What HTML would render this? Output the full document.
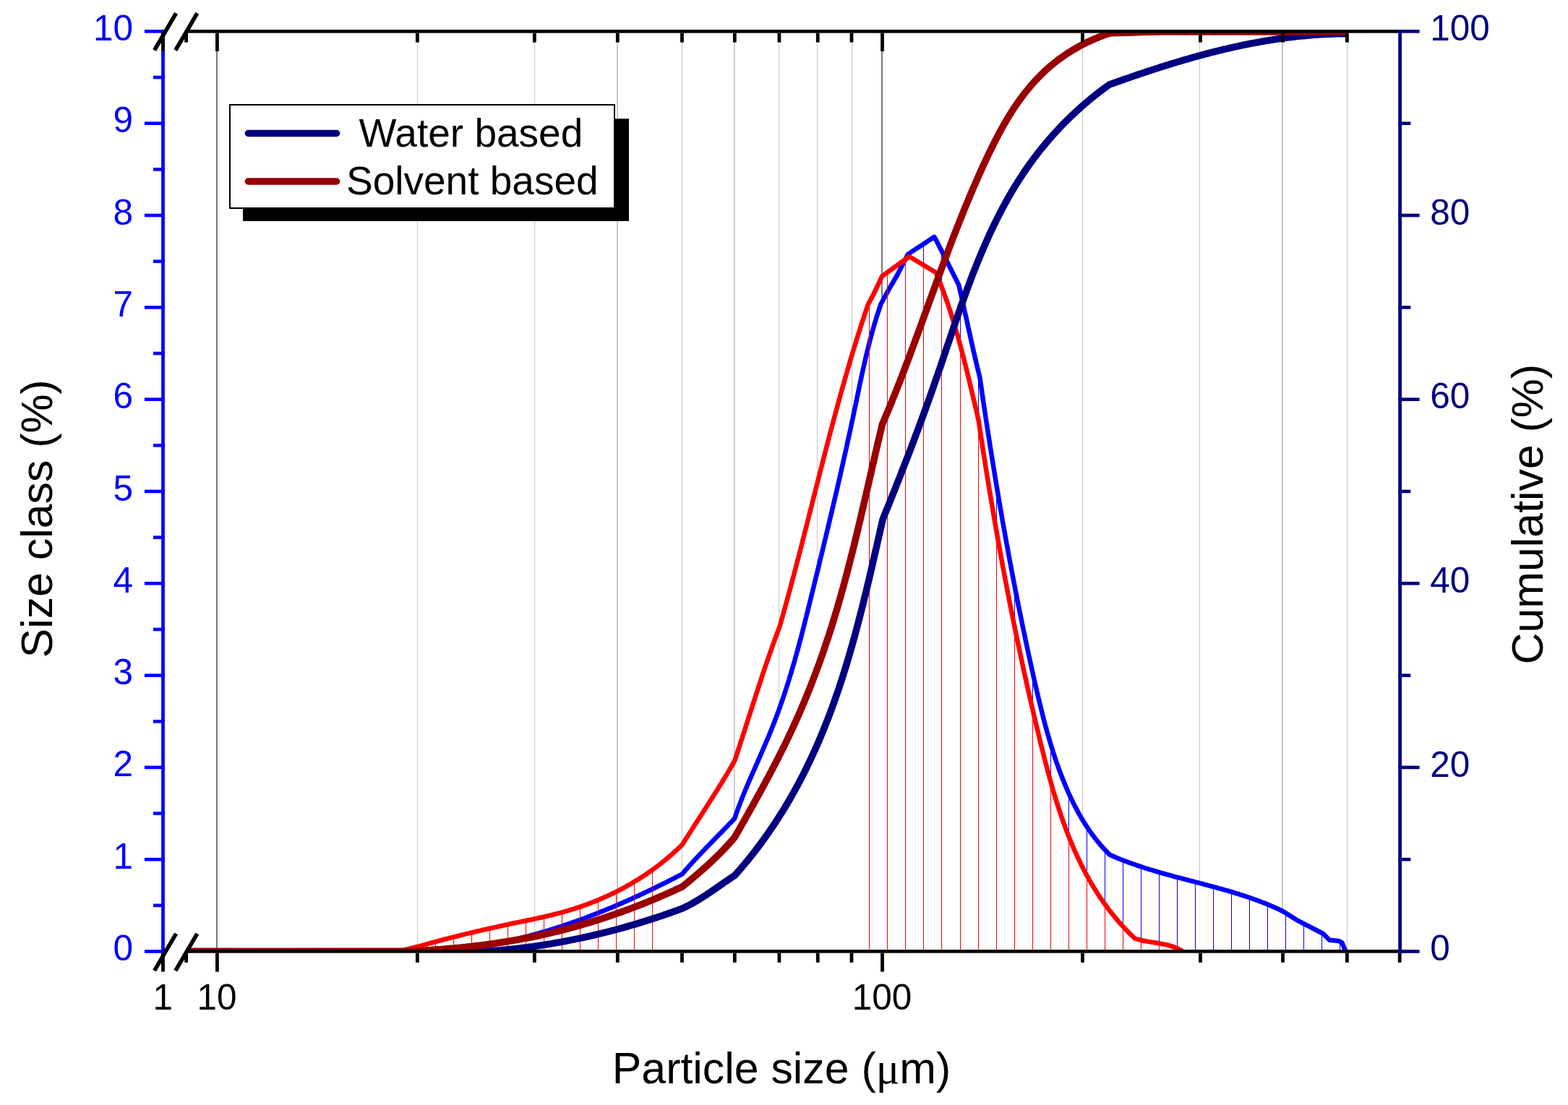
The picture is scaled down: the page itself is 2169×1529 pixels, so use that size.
<!DOCTYPE html>
<html><head><meta charset="utf-8"><title>Particle size distribution</title>
<style>html,body{margin:0;padding:0;background:#fff;}svg{display:block;}text{font-family:"Liberation Sans",Arial,sans-serif;}</style></head><body>
<svg width="2169" height="1529" viewBox="0 0 2169 1529">
<rect x="0" y="0" width="2169" height="1529" fill="#fff"/>
<defs><clipPath id="pc"><rect x="258" y="43.4" width="1678.7" height="1273.1"/></clipPath></defs>
<g shape-rendering="crispEdges">
<rect x="577" y="46" width="1" height="1268" fill="#c6c6c6"/>
<rect x="739" y="46" width="1" height="1268" fill="#c6c6c6"/>
<rect x="943" y="46" width="1" height="1268" fill="#c6c6c6"/>
<rect x="1077" y="46" width="1" height="1268" fill="#c6c6c6"/>
<rect x="1130" y="46" width="1" height="1268" fill="#c6c6c6"/>
<rect x="1178" y="46" width="1" height="1268" fill="#c6c6c6"/>
<rect x="1497" y="46" width="1" height="1268" fill="#c6c6c6"/>
<rect x="1659" y="46" width="1" height="1268" fill="#c6c6c6"/>
<rect x="1863" y="46" width="1" height="1268" fill="#c6c6c6"/>
<rect x="853" y="46" width="2" height="1268" fill="#c6c6c6"/>
<rect x="1773" y="46" width="2" height="1268" fill="#c6c6c6"/>
<rect x="1015" y="46" width="1" height="1268" fill="#c2c2c2"/>
<rect x="1016" y="46" width="1" height="1268" fill="#d4d4d4"/>
<rect x="299" y="46" width="2" height="1268" fill="#787878"/>
<rect x="1219" y="46" width="2" height="1268" fill="#787878"/>
</g>
<g clip-path="url(#pc)">
<polygon points="262.0,1316.5 560.0,1316.5 562.5,1316.6 565.0,1316.6 567.6,1316.6 570.1,1316.7 572.6,1316.7 575.1,1316.7 577.6,1316.7 580.2,1316.6 582.7,1316.6 585.2,1316.6 587.7,1316.5 590.2,1316.4 592.7,1316.3 595.2,1316.2 597.7,1316.1 600.2,1316.0 602.7,1315.9 605.2,1315.8 607.7,1315.6 610.2,1315.5 612.7,1315.3 615.2,1315.1 617.7,1314.9 620.2,1314.7 622.7,1314.5 625.2,1314.3 627.7,1314.0 630.2,1313.8 632.7,1313.5 635.1,1313.3 637.6,1313.0 640.1,1312.7 642.6,1312.4 645.1,1312.1 647.5,1311.8 650.0,1311.4 652.5,1311.1 655.0,1310.7 657.4,1310.4 659.9,1310.0 662.4,1309.6 664.8,1309.3 667.3,1308.9 669.8,1308.4 672.2,1308.0 674.7,1307.6 677.1,1307.2 679.6,1306.7 682.0,1306.3 684.5,1305.8 686.9,1305.3 689.4,1304.8 691.8,1304.4 694.3,1303.9 696.7,1303.3 699.1,1302.8 701.6,1302.3 704.0,1301.8 706.5,1301.2 708.9,1300.7 711.3,1300.1 713.8,1299.5 716.2,1298.9 718.6,1298.3 721.0,1297.8 723.5,1297.1 725.9,1296.5 728.3,1295.9 730.7,1295.3 733.1,1294.6 735.5,1294.0 737.9,1293.3 740.4,1292.7 742.8,1292.0 745.2,1291.3 747.6,1290.6 750.0,1289.9 752.4,1289.2 754.8,1288.5 757.2,1287.8 759.6,1287.1 761.9,1286.3 764.3,1285.6 766.7,1284.9 769.1,1284.1 771.5,1283.3 773.9,1282.6 776.2,1281.8 778.6,1281.0 781.0,1280.2 783.4,1279.4 785.7,1278.6 788.1,1277.8 790.5,1277.0 792.8,1276.1 795.2,1275.3 797.6,1274.5 799.9,1273.6 802.3,1272.8 804.6,1271.9 807.0,1271.1 809.3,1270.2 811.7,1269.3 814.0,1268.4 816.4,1267.5 818.7,1266.6 821.0,1265.7 823.4,1264.8 825.7,1263.9 828.0,1263.0 830.4,1262.0 832.7,1261.1 835.0,1260.2 837.3,1259.2 839.7,1258.3 842.0,1257.3 844.3,1256.4 846.6,1255.4 848.9,1254.4 851.2,1253.4 853.5,1252.5 855.8,1251.5 858.1,1250.5 860.4,1249.5 862.7,1248.5 865.0,1247.5 867.3,1246.5 869.6,1245.4 871.9,1244.4 874.2,1243.4 876.4,1242.3 878.7,1241.3 881.0,1240.3 883.3,1239.2 885.5,1238.2 887.8,1237.1 890.1,1236.0 892.3,1235.0 894.6,1233.9 896.9,1232.8 899.1,1231.8 901.4,1230.7 903.6,1229.6 905.9,1228.5 908.1,1227.4 910.4,1226.3 912.6,1225.2 914.8,1224.1 917.1,1223.0 919.3,1221.9 921.5,1220.8 923.8,1219.6 926.0,1218.5 928.2,1217.4 930.4,1216.3 932.7,1215.1 934.9,1214.0 937.1,1212.8 939.3,1211.7 941.5,1210.6 943.7,1209.4 945.3,1207.5 947.0,1205.6 948.6,1203.7 950.3,1201.8 952.0,1199.9 953.6,1198.0 955.3,1196.2 957.0,1194.3 958.7,1192.4 960.4,1190.6 962.1,1188.7 963.8,1186.9 965.5,1185.0 967.3,1183.2 969.0,1181.4 970.7,1179.6 972.5,1177.7 974.2,1175.9 975.9,1174.1 977.7,1172.3 979.4,1170.5 981.2,1168.7 982.9,1166.9 984.7,1165.1 986.4,1163.3 988.2,1161.5 989.9,1159.7 991.7,1157.9 993.4,1156.1 995.2,1154.3 997.0,1152.5 998.7,1150.7 1000.5,1148.9 1002.2,1147.1 1004.0,1145.3 1005.7,1143.5 1007.5,1141.7 1009.2,1139.8 1011.0,1138.0 1012.7,1136.2 1014.5,1134.4 1016.2,1132.6 1017.0,1130.3 1017.7,1128.1 1018.5,1125.8 1019.3,1123.5 1020.1,1121.2 1020.9,1118.9 1021.8,1116.7 1022.6,1114.4 1023.5,1112.1 1024.4,1109.8 1025.3,1107.5 1026.2,1105.2 1027.1,1102.9 1028.0,1100.6 1028.9,1098.3 1029.9,1096.0 1030.8,1093.7 1031.8,1091.4 1032.8,1089.1 1033.7,1086.8 1034.7,1084.5 1035.7,1082.2 1036.7,1079.9 1037.7,1077.6 1038.7,1075.3 1039.7,1073.0 1040.7,1070.7 1041.7,1068.4 1042.8,1066.0 1043.8,1063.7 1044.8,1061.4 1045.8,1059.1 1046.9,1056.8 1047.9,1054.4 1048.9,1052.1 1049.9,1049.8 1050.9,1047.5 1052.0,1045.1 1053.0,1042.8 1054.0,1040.5 1055.0,1038.1 1056.0,1035.8 1057.0,1033.5 1058.0,1031.1 1059.0,1028.8 1060.0,1026.4 1061.0,1024.1 1062.0,1021.8 1063.0,1019.4 1064.0,1017.1 1064.9,1014.7 1065.9,1012.4 1066.8,1010.0 1067.8,1007.7 1068.7,1005.3 1069.6,1003.0 1070.6,1000.6 1071.5,998.3 1072.4,995.9 1073.3,993.6 1074.2,991.2 1075.0,988.9 1075.9,986.5 1076.8,984.1 1077.6,981.8 1078.5,979.4 1079.3,977.0 1080.1,974.7 1081.0,972.3 1081.8,969.9 1082.6,967.6 1083.4,965.2 1084.2,962.8 1085.0,960.5 1085.8,958.1 1086.5,955.7 1087.3,953.3 1088.1,951.0 1088.8,948.6 1089.6,946.2 1090.3,943.8 1091.1,941.5 1091.8,939.1 1092.5,936.7 1093.3,934.3 1094.0,931.9 1094.7,929.5 1095.4,927.2 1096.1,924.8 1096.8,922.4 1097.5,920.0 1098.2,917.6 1098.9,915.2 1099.6,912.8 1100.2,910.4 1100.9,908.0 1101.6,905.6 1102.2,903.2 1102.9,900.8 1103.6,898.5 1104.2,896.1 1104.9,893.7 1105.5,891.3 1106.1,888.9 1106.8,886.5 1107.4,884.1 1108.1,881.7 1108.7,879.3 1109.3,876.8 1109.9,874.4 1110.6,872.0 1111.2,869.6 1111.8,867.2 1112.4,864.8 1113.0,862.4 1113.6,860.0 1114.2,857.6 1114.8,855.2 1115.4,852.8 1116.0,850.4 1116.7,847.9 1117.3,845.5 1117.8,843.1 1118.4,840.7 1119.0,838.3 1119.6,835.9 1120.2,833.5 1120.8,831.0 1121.4,828.6 1122.0,826.2 1122.6,823.8 1123.2,821.4 1123.8,819.0 1124.4,816.5 1125.0,814.1 1125.6,811.7 1126.2,809.3 1126.8,806.8 1127.4,804.4 1127.9,802.0 1128.5,799.6 1129.1,797.2 1129.7,794.7 1130.3,792.3 1130.9,789.9 1131.5,787.4 1132.1,785.0 1132.7,782.6 1133.3,780.2 1133.8,777.7 1134.4,775.3 1135.0,772.9 1135.6,770.5 1136.2,768.0 1136.8,765.6 1137.4,763.2 1138.0,760.7 1138.6,758.3 1139.1,755.9 1139.7,753.4 1140.3,751.0 1140.9,748.6 1141.5,746.1 1142.1,743.7 1142.6,741.3 1143.2,738.8 1143.8,736.4 1144.4,734.0 1145.0,731.5 1145.6,729.1 1146.1,726.7 1146.7,724.2 1147.3,721.8 1147.9,719.4 1148.4,716.9 1149.0,714.5 1149.6,712.0 1150.2,709.6 1150.8,707.2 1151.3,704.7 1151.9,702.3 1152.5,699.9 1153.0,697.4 1153.6,695.0 1154.2,692.5 1154.8,690.1 1155.3,687.7 1155.9,685.2 1156.5,682.8 1157.0,680.4 1157.6,677.9 1158.2,675.5 1158.7,673.0 1159.3,670.6 1159.8,668.2 1160.4,665.7 1161.0,663.3 1161.5,660.8 1162.1,658.4 1162.6,656.0 1163.2,653.5 1163.7,651.1 1164.3,648.6 1164.8,646.2 1165.4,643.8 1165.9,641.3 1166.5,638.9 1167.0,636.4 1167.6,634.0 1168.1,631.6 1168.7,629.1 1169.2,626.7 1169.8,624.3 1170.3,621.8 1170.8,619.4 1171.4,616.9 1171.9,614.5 1172.4,612.1 1173.0,609.6 1173.5,607.2 1174.0,604.7 1174.6,602.3 1175.1,599.9 1175.6,597.4 1176.2,595.0 1176.7,592.6 1177.2,590.1 1177.7,587.7 1178.2,585.2 1178.8,582.8 1179.3,580.4 1179.8,577.9 1180.3,575.5 1180.8,573.1 1181.3,570.6 1181.8,568.2 1182.3,565.8 1182.9,563.3 1183.4,560.9 1183.9,558.5 1184.4,556.0 1184.9,553.6 1185.4,551.2 1185.9,548.7 1186.4,546.3 1186.9,543.9 1187.4,541.4 1187.9,539.0 1188.4,536.6 1188.9,534.1 1189.4,531.7 1189.9,529.3 1190.5,526.9 1191.0,524.4 1191.5,522.0 1192.0,519.6 1192.5,517.1 1193.1,514.7 1193.6,512.3 1194.1,509.9 1194.7,507.4 1195.2,505.0 1195.8,502.6 1196.3,500.2 1196.9,497.7 1197.5,495.3 1198.0,492.9 1198.6,490.5 1199.2,488.0 1199.8,485.6 1200.4,483.2 1201.0,480.8 1201.6,478.4 1202.2,475.9 1202.8,473.5 1203.4,471.1 1204.0,468.7 1204.7,466.3 1205.3,463.9 1206.0,461.5 1206.7,459.0 1207.3,456.6 1208.0,454.2 1208.7,451.8 1209.4,449.4 1210.1,447.0 1210.8,444.6 1211.6,442.2 1212.3,439.7 1213.0,437.3 1213.8,434.9 1214.6,432.5 1215.4,430.1 1216.2,427.7 1217.0,425.3 1217.8,422.9 1218.6,420.5 1228.6,402.1 1241.2,380.5 1255.8,351.9 1292.4,327.8 1293.6,330.1 1294.8,332.3 1296.1,334.6 1297.3,336.9 1298.4,339.1 1299.6,341.4 1300.8,343.7 1302.0,346.0 1303.2,348.3 1304.3,350.6 1305.5,352.8 1306.7,355.1 1307.8,357.4 1309.0,359.7 1310.1,362.0 1311.3,364.3 1312.4,366.6 1313.5,368.9 1314.7,371.2 1315.8,373.5 1317.0,375.8 1318.1,378.1 1319.3,380.4 1320.4,382.7 1321.6,385.0 1322.7,387.3 1323.9,389.6 1325.0,391.9 1326.2,394.2 1326.8,396.7 1327.3,399.1 1327.9,401.6 1328.5,404.1 1329.0,406.5 1329.6,409.0 1330.2,411.5 1330.7,413.9 1331.3,416.4 1331.8,418.9 1332.4,421.3 1332.9,423.8 1333.5,426.3 1334.0,428.7 1334.6,431.2 1335.1,433.7 1335.7,436.1 1336.2,438.6 1336.8,441.1 1337.3,443.5 1337.9,446.0 1338.4,448.5 1338.9,450.9 1339.5,453.4 1340.0,455.9 1340.6,458.3 1341.1,460.8 1341.7,463.3 1342.2,465.8 1342.8,468.2 1343.3,470.7 1343.9,473.2 1344.4,475.6 1345.0,478.1 1345.5,480.6 1346.1,483.0 1346.6,485.5 1347.2,488.0 1347.8,490.4 1348.3,492.9 1348.9,495.3 1349.5,497.8 1350.1,500.3 1350.6,502.7 1351.2,505.2 1351.8,507.7 1352.4,510.1 1353.0,512.6 1353.6,515.0 1354.2,517.5 1354.8,519.9 1355.4,522.4 1355.8,524.9 1356.1,527.4 1356.5,529.8 1356.8,532.3 1357.2,534.8 1357.6,537.3 1357.9,539.8 1358.3,542.3 1358.6,544.7 1359.0,547.2 1359.4,549.7 1359.7,552.2 1360.1,554.6 1360.5,557.1 1360.8,559.6 1361.2,562.1 1361.6,564.6 1362.0,567.0 1362.3,569.5 1362.7,572.0 1363.1,574.5 1363.4,576.9 1363.8,579.4 1364.2,581.9 1364.6,584.3 1364.9,586.8 1365.3,589.3 1365.7,591.8 1366.1,594.2 1366.5,596.7 1366.8,599.2 1367.2,601.6 1367.6,604.1 1368.0,606.6 1368.4,609.1 1368.8,611.5 1369.2,614.0 1369.5,616.5 1369.9,618.9 1370.3,621.4 1370.7,623.9 1371.1,626.3 1371.5,628.8 1371.9,631.3 1372.3,633.7 1372.7,636.2 1373.1,638.7 1373.5,641.1 1373.9,643.6 1374.3,646.1 1374.7,648.5 1375.1,651.0 1375.5,653.4 1375.9,655.9 1376.3,658.4 1376.7,660.8 1377.1,663.3 1377.5,665.8 1377.9,668.2 1378.3,670.7 1378.7,673.1 1379.1,675.6 1379.5,678.1 1380.0,680.5 1380.4,683.0 1380.8,685.5 1381.2,687.9 1381.6,690.4 1382.0,692.8 1382.5,695.3 1382.9,697.8 1383.3,700.2 1383.7,702.7 1384.1,705.1 1384.6,707.6 1385.0,710.0 1385.4,712.5 1385.9,715.0 1386.3,717.4 1386.7,719.9 1387.1,722.3 1387.6,724.8 1388.0,727.3 1388.4,729.7 1388.9,732.2 1389.3,734.6 1389.8,737.1 1390.2,739.5 1390.6,742.0 1391.1,744.5 1391.5,746.9 1392.0,749.4 1392.4,751.8 1392.9,754.3 1393.3,756.7 1393.8,759.2 1394.2,761.6 1394.7,764.1 1395.1,766.6 1395.6,769.0 1396.0,771.5 1396.5,773.9 1396.9,776.4 1397.4,778.8 1397.9,781.3 1398.3,783.7 1398.8,786.2 1399.2,788.7 1399.7,791.1 1400.2,793.6 1400.6,796.0 1401.1,798.5 1401.6,800.9 1402.1,803.4 1402.5,805.8 1403.0,808.3 1403.5,810.7 1404.0,813.2 1404.4,815.7 1404.9,818.1 1405.4,820.6 1405.9,823.0 1406.4,825.5 1406.8,827.9 1407.3,830.4 1407.8,832.8 1408.3,835.3 1408.8,837.8 1409.3,840.2 1409.8,842.7 1410.3,845.1 1410.8,847.6 1411.3,850.0 1411.8,852.5 1412.3,854.9 1412.8,857.4 1413.3,859.8 1413.8,862.3 1414.3,864.8 1414.8,867.2 1415.3,869.7 1415.8,872.1 1416.3,874.6 1416.9,877.0 1417.4,879.5 1417.9,882.0 1418.4,884.4 1418.9,886.9 1419.4,889.3 1420.0,891.8 1420.5,894.2 1421.0,896.7 1421.5,899.2 1422.1,901.6 1422.6,904.1 1423.1,906.5 1423.7,909.0 1424.2,911.4 1424.7,913.9 1425.3,916.4 1425.8,918.8 1426.4,921.3 1426.9,923.7 1427.4,926.2 1428.0,928.6 1428.5,931.1 1429.1,933.6 1429.6,936.0 1430.2,938.5 1430.7,940.9 1431.3,943.4 1431.9,945.9 1432.4,948.3 1433.0,950.8 1433.6,953.2 1434.1,955.7 1434.7,958.2 1435.3,960.6 1435.8,963.1 1436.4,965.5 1437.0,968.0 1437.6,970.4 1438.2,972.9 1438.8,975.3 1439.4,977.8 1440.0,980.2 1440.6,982.7 1441.2,985.1 1441.8,987.6 1442.4,990.0 1443.0,992.5 1443.7,994.9 1444.3,997.3 1445.0,999.8 1445.6,1002.2 1446.2,1004.6 1446.9,1007.0 1447.6,1009.5 1448.2,1011.9 1448.9,1014.3 1449.6,1016.7 1450.3,1019.1 1451.0,1021.5 1451.7,1023.9 1452.4,1026.3 1453.1,1028.7 1453.8,1031.1 1454.6,1033.5 1455.3,1035.9 1456.1,1038.3 1456.8,1040.7 1457.6,1043.0 1458.3,1045.4 1459.1,1047.8 1459.9,1050.1 1460.7,1052.5 1461.5,1054.8 1462.3,1057.2 1463.2,1059.5 1464.0,1061.8 1464.8,1064.2 1465.7,1066.5 1466.6,1068.8 1467.4,1071.1 1468.3,1073.4 1469.2,1075.7 1470.1,1078.0 1471.0,1080.3 1471.9,1082.6 1472.9,1084.9 1473.8,1087.2 1474.8,1089.4 1475.8,1091.7 1476.7,1093.9 1477.7,1096.2 1478.7,1098.4 1479.8,1100.6 1480.8,1102.9 1481.8,1105.1 1482.9,1107.3 1483.9,1109.5 1485.0,1111.7 1486.1,1113.9 1487.2,1116.1 1488.4,1118.2 1489.5,1120.4 1490.7,1122.6 1491.8,1124.7 1493.0,1126.9 1494.2,1129.0 1495.4,1131.1 1496.7,1133.2 1498.0,1135.3 1499.2,1137.4 1500.5,1139.5 1501.9,1141.6 1503.2,1143.6 1504.6,1145.7 1505.9,1147.7 1507.4,1149.8 1508.8,1151.8 1510.2,1153.8 1511.7,1155.8 1513.2,1157.8 1514.7,1159.8 1516.3,1161.8 1517.9,1163.7 1519.5,1165.7 1521.1,1167.6 1522.7,1169.6 1524.4,1171.5 1526.1,1173.4 1527.9,1175.3 1529.6,1177.1 1531.4,1179.0 1533.2,1180.9 1535.1,1182.7 1537.4,1183.7 1539.7,1184.7 1542.0,1185.7 1544.4,1186.7 1546.7,1187.7 1549.0,1188.6 1551.3,1189.5 1553.7,1190.5 1556.0,1191.4 1558.4,1192.2 1560.7,1193.1 1563.1,1194.0 1565.5,1194.8 1567.8,1195.7 1570.2,1196.5 1572.6,1197.3 1575.0,1198.1 1577.4,1198.9 1579.7,1199.7 1582.1,1200.5 1584.5,1201.3 1586.9,1202.0 1589.3,1202.8 1591.7,1203.5 1594.1,1204.2 1596.6,1204.9 1599.0,1205.7 1601.4,1206.4 1603.8,1207.1 1606.2,1207.8 1608.7,1208.5 1611.1,1209.1 1613.5,1209.8 1615.9,1210.5 1618.4,1211.1 1620.8,1211.8 1623.2,1212.5 1625.7,1213.1 1628.1,1213.8 1630.5,1214.4 1633.0,1215.1 1635.4,1215.7 1637.9,1216.4 1640.3,1217.0 1642.8,1217.6 1645.2,1218.3 1647.6,1218.9 1650.1,1219.5 1652.5,1220.2 1655.0,1220.8 1657.4,1221.4 1659.9,1222.1 1662.3,1222.7 1664.7,1223.4 1667.2,1224.0 1669.6,1224.7 1672.1,1225.3 1674.5,1226.0 1676.9,1226.6 1679.4,1227.3 1681.8,1227.9 1684.2,1228.6 1686.7,1229.3 1689.1,1230.0 1691.5,1230.6 1694.0,1231.3 1696.4,1232.0 1698.8,1232.7 1701.2,1233.4 1703.6,1234.2 1706.1,1234.9 1708.5,1235.6 1710.9,1236.4 1713.3,1237.1 1715.7,1237.9 1718.1,1238.6 1720.5,1239.4 1722.9,1240.2 1725.3,1241.0 1727.6,1241.8 1730.0,1242.6 1732.4,1243.5 1734.8,1244.3 1737.1,1245.2 1739.5,1246.0 1741.9,1246.9 1744.2,1247.8 1746.6,1248.7 1748.9,1249.6 1751.3,1250.6 1753.6,1251.5 1755.9,1252.5 1758.3,1253.5 1760.6,1254.5 1762.9,1255.5 1765.2,1256.5 1767.5,1257.6 1769.8,1258.6 1772.1,1259.7 1774.4,1260.8 1794.3,1273.3 1830.4,1292.0 1839.1,1300.7 1851.5,1301.9 1856.5,1304.4 1861.5,1316.5 1861.5,1320.0 262.0,1320.0" fill="#fff"/>
<g shape-rendering="crispEdges">
<rect x="1252" y="357.6" width="1" height="1.0" fill="#0000ff"/>
<rect x="1277" y="337.3" width="1" height="29.7" fill="#0000ff"/>
<rect x="1302" y="347.9" width="1" height="50.2" fill="#0000ff"/>
<rect x="1328" y="402.0" width="1" height="74.6" fill="#0000ff"/>
<rect x="1353" y="512.7" width="1" height="66.2" fill="#0000ff"/>
<rect x="1378" y="669.2" width="1" height="63.9" fill="#0000ff"/>
<rect x="1403" y="808.7" width="1" height="56.7" fill="#0000ff"/>
<rect x="1428" y="929.2" width="1" height="51.2" fill="#0000ff"/>
<rect x="1453" y="1028.9" width="1" height="51.9" fill="#0000ff"/>
<rect x="1478" y="1097.2" width="1" height="59.7" fill="#0000ff"/>
<rect x="1503" y="1143.7" width="1" height="67.3" fill="#0000ff"/>
<rect x="1528" y="1175.7" width="1" height="75.3" fill="#0000ff"/>
<rect x="1553" y="1190.3" width="1" height="91.5" fill="#0000ff"/>
<rect x="1578" y="1199.2" width="1" height="101.6" fill="#0000ff"/>
<rect x="1603" y="1206.9" width="1" height="98.4" fill="#0000ff"/>
<rect x="1628" y="1213.8" width="1" height="102.7" fill="#0000ff"/>
<rect x="1653" y="1220.4" width="1" height="96.1" fill="#0000ff"/>
<rect x="1678" y="1227.0" width="1" height="89.5" fill="#0000ff"/>
<rect x="1703" y="1234.1" width="1" height="82.4" fill="#0000ff"/>
<rect x="1728" y="1242.1" width="1" height="74.4" fill="#0000ff"/>
<rect x="1753" y="1251.5" width="1" height="65.0" fill="#0000ff"/>
<rect x="1778" y="1263.4" width="1" height="53.1" fill="#0000ff"/>
<rect x="1803" y="1278.1" width="1" height="38.4" fill="#0000ff"/>
<rect x="1828" y="1291.1" width="1" height="25.4" fill="#0000ff"/>
<rect x="1853" y="1303.0" width="1" height="13.5" fill="#0000ff"/>
</g>
<polyline points="262.0,1316.5 560.0,1316.5 562.5,1316.6 565.0,1316.6 567.6,1316.6 570.1,1316.7 572.6,1316.7 575.1,1316.7 577.6,1316.7 580.2,1316.6 582.7,1316.6 585.2,1316.6 587.7,1316.5 590.2,1316.4 592.7,1316.3 595.2,1316.2 597.7,1316.1 600.2,1316.0 602.7,1315.9 605.2,1315.8 607.7,1315.6 610.2,1315.5 612.7,1315.3 615.2,1315.1 617.7,1314.9 620.2,1314.7 622.7,1314.5 625.2,1314.3 627.7,1314.0 630.2,1313.8 632.7,1313.5 635.1,1313.3 637.6,1313.0 640.1,1312.7 642.6,1312.4 645.1,1312.1 647.5,1311.8 650.0,1311.4 652.5,1311.1 655.0,1310.7 657.4,1310.4 659.9,1310.0 662.4,1309.6 664.8,1309.3 667.3,1308.9 669.8,1308.4 672.2,1308.0 674.7,1307.6 677.1,1307.2 679.6,1306.7 682.0,1306.3 684.5,1305.8 686.9,1305.3 689.4,1304.8 691.8,1304.4 694.3,1303.9 696.7,1303.3 699.1,1302.8 701.6,1302.3 704.0,1301.8 706.5,1301.2 708.9,1300.7 711.3,1300.1 713.8,1299.5 716.2,1298.9 718.6,1298.3 721.0,1297.8 723.5,1297.1 725.9,1296.5 728.3,1295.9 730.7,1295.3 733.1,1294.6 735.5,1294.0 737.9,1293.3 740.4,1292.7 742.8,1292.0 745.2,1291.3 747.6,1290.6 750.0,1289.9 752.4,1289.2 754.8,1288.5 757.2,1287.8 759.6,1287.1 761.9,1286.3 764.3,1285.6 766.7,1284.9 769.1,1284.1 771.5,1283.3 773.9,1282.6 776.2,1281.8 778.6,1281.0 781.0,1280.2 783.4,1279.4 785.7,1278.6 788.1,1277.8 790.5,1277.0 792.8,1276.1 795.2,1275.3 797.6,1274.5 799.9,1273.6 802.3,1272.8 804.6,1271.9 807.0,1271.1 809.3,1270.2 811.7,1269.3 814.0,1268.4 816.4,1267.5 818.7,1266.6 821.0,1265.7 823.4,1264.8 825.7,1263.9 828.0,1263.0 830.4,1262.0 832.7,1261.1 835.0,1260.2 837.3,1259.2 839.7,1258.3 842.0,1257.3 844.3,1256.4 846.6,1255.4 848.9,1254.4 851.2,1253.4 853.5,1252.5 855.8,1251.5 858.1,1250.5 860.4,1249.5 862.7,1248.5 865.0,1247.5 867.3,1246.5 869.6,1245.4 871.9,1244.4 874.2,1243.4 876.4,1242.3 878.7,1241.3 881.0,1240.3 883.3,1239.2 885.5,1238.2 887.8,1237.1 890.1,1236.0 892.3,1235.0 894.6,1233.9 896.9,1232.8 899.1,1231.8 901.4,1230.7 903.6,1229.6 905.9,1228.5 908.1,1227.4 910.4,1226.3 912.6,1225.2 914.8,1224.1 917.1,1223.0 919.3,1221.9 921.5,1220.8 923.8,1219.6 926.0,1218.5 928.2,1217.4 930.4,1216.3 932.7,1215.1 934.9,1214.0 937.1,1212.8 939.3,1211.7 941.5,1210.6 943.7,1209.4 945.3,1207.5 947.0,1205.6 948.6,1203.7 950.3,1201.8 952.0,1199.9 953.6,1198.0 955.3,1196.2 957.0,1194.3 958.7,1192.4 960.4,1190.6 962.1,1188.7 963.8,1186.9 965.5,1185.0 967.3,1183.2 969.0,1181.4 970.7,1179.6 972.5,1177.7 974.2,1175.9 975.9,1174.1 977.7,1172.3 979.4,1170.5 981.2,1168.7 982.9,1166.9 984.7,1165.1 986.4,1163.3 988.2,1161.5 989.9,1159.7 991.7,1157.9 993.4,1156.1 995.2,1154.3 997.0,1152.5 998.7,1150.7 1000.5,1148.9 1002.2,1147.1 1004.0,1145.3 1005.7,1143.5 1007.5,1141.7 1009.2,1139.8 1011.0,1138.0 1012.7,1136.2 1014.5,1134.4 1016.2,1132.6 1017.0,1130.3 1017.7,1128.1 1018.5,1125.8 1019.3,1123.5 1020.1,1121.2 1020.9,1118.9 1021.8,1116.7 1022.6,1114.4 1023.5,1112.1 1024.4,1109.8 1025.3,1107.5 1026.2,1105.2 1027.1,1102.9 1028.0,1100.6 1028.9,1098.3 1029.9,1096.0 1030.8,1093.7 1031.8,1091.4 1032.8,1089.1 1033.7,1086.8 1034.7,1084.5 1035.7,1082.2 1036.7,1079.9 1037.7,1077.6 1038.7,1075.3 1039.7,1073.0 1040.7,1070.7 1041.7,1068.4 1042.8,1066.0 1043.8,1063.7 1044.8,1061.4 1045.8,1059.1 1046.9,1056.8 1047.9,1054.4 1048.9,1052.1 1049.9,1049.8 1050.9,1047.5 1052.0,1045.1 1053.0,1042.8 1054.0,1040.5 1055.0,1038.1 1056.0,1035.8 1057.0,1033.5 1058.0,1031.1 1059.0,1028.8 1060.0,1026.4 1061.0,1024.1 1062.0,1021.8 1063.0,1019.4 1064.0,1017.1 1064.9,1014.7 1065.9,1012.4 1066.8,1010.0 1067.8,1007.7 1068.7,1005.3 1069.6,1003.0 1070.6,1000.6 1071.5,998.3 1072.4,995.9 1073.3,993.6 1074.2,991.2 1075.0,988.9 1075.9,986.5 1076.8,984.1 1077.6,981.8 1078.5,979.4 1079.3,977.0 1080.1,974.7 1081.0,972.3 1081.8,969.9 1082.6,967.6 1083.4,965.2 1084.2,962.8 1085.0,960.5 1085.8,958.1 1086.5,955.7 1087.3,953.3 1088.1,951.0 1088.8,948.6 1089.6,946.2 1090.3,943.8 1091.1,941.5 1091.8,939.1 1092.5,936.7 1093.3,934.3 1094.0,931.9 1094.7,929.5 1095.4,927.2 1096.1,924.8 1096.8,922.4 1097.5,920.0 1098.2,917.6 1098.9,915.2 1099.6,912.8 1100.2,910.4 1100.9,908.0 1101.6,905.6 1102.2,903.2 1102.9,900.8 1103.6,898.5 1104.2,896.1 1104.9,893.7 1105.5,891.3 1106.1,888.9 1106.8,886.5 1107.4,884.1 1108.1,881.7 1108.7,879.3 1109.3,876.8 1109.9,874.4 1110.6,872.0 1111.2,869.6 1111.8,867.2 1112.4,864.8 1113.0,862.4 1113.6,860.0 1114.2,857.6 1114.8,855.2 1115.4,852.8 1116.0,850.4 1116.7,847.9 1117.3,845.5 1117.8,843.1 1118.4,840.7 1119.0,838.3 1119.6,835.9 1120.2,833.5 1120.8,831.0 1121.4,828.6 1122.0,826.2 1122.6,823.8 1123.2,821.4 1123.8,819.0 1124.4,816.5 1125.0,814.1 1125.6,811.7 1126.2,809.3 1126.8,806.8 1127.4,804.4 1127.9,802.0 1128.5,799.6 1129.1,797.2 1129.7,794.7 1130.3,792.3 1130.9,789.9 1131.5,787.4 1132.1,785.0 1132.7,782.6 1133.3,780.2 1133.8,777.7 1134.4,775.3 1135.0,772.9 1135.6,770.5 1136.2,768.0 1136.8,765.6 1137.4,763.2 1138.0,760.7 1138.6,758.3 1139.1,755.9 1139.7,753.4 1140.3,751.0 1140.9,748.6 1141.5,746.1 1142.1,743.7 1142.6,741.3 1143.2,738.8 1143.8,736.4 1144.4,734.0 1145.0,731.5 1145.6,729.1 1146.1,726.7 1146.7,724.2 1147.3,721.8 1147.9,719.4 1148.4,716.9 1149.0,714.5 1149.6,712.0 1150.2,709.6 1150.8,707.2 1151.3,704.7 1151.9,702.3 1152.5,699.9 1153.0,697.4 1153.6,695.0 1154.2,692.5 1154.8,690.1 1155.3,687.7 1155.9,685.2 1156.5,682.8 1157.0,680.4 1157.6,677.9 1158.2,675.5 1158.7,673.0 1159.3,670.6 1159.8,668.2 1160.4,665.7 1161.0,663.3 1161.5,660.8 1162.1,658.4 1162.6,656.0 1163.2,653.5 1163.7,651.1 1164.3,648.6 1164.8,646.2 1165.4,643.8 1165.9,641.3 1166.5,638.9 1167.0,636.4 1167.6,634.0 1168.1,631.6 1168.7,629.1 1169.2,626.7 1169.8,624.3 1170.3,621.8 1170.8,619.4 1171.4,616.9 1171.9,614.5 1172.4,612.1 1173.0,609.6 1173.5,607.2 1174.0,604.7 1174.6,602.3 1175.1,599.9 1175.6,597.4 1176.2,595.0 1176.7,592.6 1177.2,590.1 1177.7,587.7 1178.2,585.2 1178.8,582.8 1179.3,580.4 1179.8,577.9 1180.3,575.5 1180.8,573.1 1181.3,570.6 1181.8,568.2 1182.3,565.8 1182.9,563.3 1183.4,560.9 1183.9,558.5 1184.4,556.0 1184.9,553.6 1185.4,551.2 1185.9,548.7 1186.4,546.3 1186.9,543.9 1187.4,541.4 1187.9,539.0 1188.4,536.6 1188.9,534.1 1189.4,531.7 1189.9,529.3 1190.5,526.9 1191.0,524.4 1191.5,522.0 1192.0,519.6 1192.5,517.1 1193.1,514.7 1193.6,512.3 1194.1,509.9 1194.7,507.4 1195.2,505.0 1195.8,502.6 1196.3,500.2 1196.9,497.7 1197.5,495.3 1198.0,492.9 1198.6,490.5 1199.2,488.0 1199.8,485.6 1200.4,483.2 1201.0,480.8 1201.6,478.4 1202.2,475.9 1202.8,473.5 1203.4,471.1 1204.0,468.7 1204.7,466.3 1205.3,463.9 1206.0,461.5 1206.7,459.0 1207.3,456.6 1208.0,454.2 1208.7,451.8 1209.4,449.4 1210.1,447.0 1210.8,444.6 1211.6,442.2 1212.3,439.7 1213.0,437.3 1213.8,434.9 1214.6,432.5 1215.4,430.1 1216.2,427.7 1217.0,425.3 1217.8,422.9 1218.6,420.5 1228.6,402.1 1241.2,380.5 1255.8,351.9 1292.4,327.8 1293.6,330.1 1294.8,332.3 1296.1,334.6 1297.3,336.9 1298.4,339.1 1299.6,341.4 1300.8,343.7 1302.0,346.0 1303.2,348.3 1304.3,350.6 1305.5,352.8 1306.7,355.1 1307.8,357.4 1309.0,359.7 1310.1,362.0 1311.3,364.3 1312.4,366.6 1313.5,368.9 1314.7,371.2 1315.8,373.5 1317.0,375.8 1318.1,378.1 1319.3,380.4 1320.4,382.7 1321.6,385.0 1322.7,387.3 1323.9,389.6 1325.0,391.9 1326.2,394.2 1326.8,396.7 1327.3,399.1 1327.9,401.6 1328.5,404.1 1329.0,406.5 1329.6,409.0 1330.2,411.5 1330.7,413.9 1331.3,416.4 1331.8,418.9 1332.4,421.3 1332.9,423.8 1333.5,426.3 1334.0,428.7 1334.6,431.2 1335.1,433.7 1335.7,436.1 1336.2,438.6 1336.8,441.1 1337.3,443.5 1337.9,446.0 1338.4,448.5 1338.9,450.9 1339.5,453.4 1340.0,455.9 1340.6,458.3 1341.1,460.8 1341.7,463.3 1342.2,465.8 1342.8,468.2 1343.3,470.7 1343.9,473.2 1344.4,475.6 1345.0,478.1 1345.5,480.6 1346.1,483.0 1346.6,485.5 1347.2,488.0 1347.8,490.4 1348.3,492.9 1348.9,495.3 1349.5,497.8 1350.1,500.3 1350.6,502.7 1351.2,505.2 1351.8,507.7 1352.4,510.1 1353.0,512.6 1353.6,515.0 1354.2,517.5 1354.8,519.9 1355.4,522.4 1355.8,524.9 1356.1,527.4 1356.5,529.8 1356.8,532.3 1357.2,534.8 1357.6,537.3 1357.9,539.8 1358.3,542.3 1358.6,544.7 1359.0,547.2 1359.4,549.7 1359.7,552.2 1360.1,554.6 1360.5,557.1 1360.8,559.6 1361.2,562.1 1361.6,564.6 1362.0,567.0 1362.3,569.5 1362.7,572.0 1363.1,574.5 1363.4,576.9 1363.8,579.4 1364.2,581.9 1364.6,584.3 1364.9,586.8 1365.3,589.3 1365.7,591.8 1366.1,594.2 1366.5,596.7 1366.8,599.2 1367.2,601.6 1367.6,604.1 1368.0,606.6 1368.4,609.1 1368.8,611.5 1369.2,614.0 1369.5,616.5 1369.9,618.9 1370.3,621.4 1370.7,623.9 1371.1,626.3 1371.5,628.8 1371.9,631.3 1372.3,633.7 1372.7,636.2 1373.1,638.7 1373.5,641.1 1373.9,643.6 1374.3,646.1 1374.7,648.5 1375.1,651.0 1375.5,653.4 1375.9,655.9 1376.3,658.4 1376.7,660.8 1377.1,663.3 1377.5,665.8 1377.9,668.2 1378.3,670.7 1378.7,673.1 1379.1,675.6 1379.5,678.1 1380.0,680.5 1380.4,683.0 1380.8,685.5 1381.2,687.9 1381.6,690.4 1382.0,692.8 1382.5,695.3 1382.9,697.8 1383.3,700.2 1383.7,702.7 1384.1,705.1 1384.6,707.6 1385.0,710.0 1385.4,712.5 1385.9,715.0 1386.3,717.4 1386.7,719.9 1387.1,722.3 1387.6,724.8 1388.0,727.3 1388.4,729.7 1388.9,732.2 1389.3,734.6 1389.8,737.1 1390.2,739.5 1390.6,742.0 1391.1,744.5 1391.5,746.9 1392.0,749.4 1392.4,751.8 1392.9,754.3 1393.3,756.7 1393.8,759.2 1394.2,761.6 1394.7,764.1 1395.1,766.6 1395.6,769.0 1396.0,771.5 1396.5,773.9 1396.9,776.4 1397.4,778.8 1397.9,781.3 1398.3,783.7 1398.8,786.2 1399.2,788.7 1399.7,791.1 1400.2,793.6 1400.6,796.0 1401.1,798.5 1401.6,800.9 1402.1,803.4 1402.5,805.8 1403.0,808.3 1403.5,810.7 1404.0,813.2 1404.4,815.7 1404.9,818.1 1405.4,820.6 1405.9,823.0 1406.4,825.5 1406.8,827.9 1407.3,830.4 1407.8,832.8 1408.3,835.3 1408.8,837.8 1409.3,840.2 1409.8,842.7 1410.3,845.1 1410.8,847.6 1411.3,850.0 1411.8,852.5 1412.3,854.9 1412.8,857.4 1413.3,859.8 1413.8,862.3 1414.3,864.8 1414.8,867.2 1415.3,869.7 1415.8,872.1 1416.3,874.6 1416.9,877.0 1417.4,879.5 1417.9,882.0 1418.4,884.4 1418.9,886.9 1419.4,889.3 1420.0,891.8 1420.5,894.2 1421.0,896.7 1421.5,899.2 1422.1,901.6 1422.6,904.1 1423.1,906.5 1423.7,909.0 1424.2,911.4 1424.7,913.9 1425.3,916.4 1425.8,918.8 1426.4,921.3 1426.9,923.7 1427.4,926.2 1428.0,928.6 1428.5,931.1 1429.1,933.6 1429.6,936.0 1430.2,938.5 1430.7,940.9 1431.3,943.4 1431.9,945.9 1432.4,948.3 1433.0,950.8 1433.6,953.2 1434.1,955.7 1434.7,958.2 1435.3,960.6 1435.8,963.1 1436.4,965.5 1437.0,968.0 1437.6,970.4 1438.2,972.9 1438.8,975.3 1439.4,977.8 1440.0,980.2 1440.6,982.7 1441.2,985.1 1441.8,987.6 1442.4,990.0 1443.0,992.5 1443.7,994.9 1444.3,997.3 1445.0,999.8 1445.6,1002.2 1446.2,1004.6 1446.9,1007.0 1447.6,1009.5 1448.2,1011.9 1448.9,1014.3 1449.6,1016.7 1450.3,1019.1 1451.0,1021.5 1451.7,1023.9 1452.4,1026.3 1453.1,1028.7 1453.8,1031.1 1454.6,1033.5 1455.3,1035.9 1456.1,1038.3 1456.8,1040.7 1457.6,1043.0 1458.3,1045.4 1459.1,1047.8 1459.9,1050.1 1460.7,1052.5 1461.5,1054.8 1462.3,1057.2 1463.2,1059.5 1464.0,1061.8 1464.8,1064.2 1465.7,1066.5 1466.6,1068.8 1467.4,1071.1 1468.3,1073.4 1469.2,1075.7 1470.1,1078.0 1471.0,1080.3 1471.9,1082.6 1472.9,1084.9 1473.8,1087.2 1474.8,1089.4 1475.8,1091.7 1476.7,1093.9 1477.7,1096.2 1478.7,1098.4 1479.8,1100.6 1480.8,1102.9 1481.8,1105.1 1482.9,1107.3 1483.9,1109.5 1485.0,1111.7 1486.1,1113.9 1487.2,1116.1 1488.4,1118.2 1489.5,1120.4 1490.7,1122.6 1491.8,1124.7 1493.0,1126.9 1494.2,1129.0 1495.4,1131.1 1496.7,1133.2 1498.0,1135.3 1499.2,1137.4 1500.5,1139.5 1501.9,1141.6 1503.2,1143.6 1504.6,1145.7 1505.9,1147.7 1507.4,1149.8 1508.8,1151.8 1510.2,1153.8 1511.7,1155.8 1513.2,1157.8 1514.7,1159.8 1516.3,1161.8 1517.9,1163.7 1519.5,1165.7 1521.1,1167.6 1522.7,1169.6 1524.4,1171.5 1526.1,1173.4 1527.9,1175.3 1529.6,1177.1 1531.4,1179.0 1533.2,1180.9 1535.1,1182.7 1537.4,1183.7 1539.7,1184.7 1542.0,1185.7 1544.4,1186.7 1546.7,1187.7 1549.0,1188.6 1551.3,1189.5 1553.7,1190.5 1556.0,1191.4 1558.4,1192.2 1560.7,1193.1 1563.1,1194.0 1565.5,1194.8 1567.8,1195.7 1570.2,1196.5 1572.6,1197.3 1575.0,1198.1 1577.4,1198.9 1579.7,1199.7 1582.1,1200.5 1584.5,1201.3 1586.9,1202.0 1589.3,1202.8 1591.7,1203.5 1594.1,1204.2 1596.6,1204.9 1599.0,1205.7 1601.4,1206.4 1603.8,1207.1 1606.2,1207.8 1608.7,1208.5 1611.1,1209.1 1613.5,1209.8 1615.9,1210.5 1618.4,1211.1 1620.8,1211.8 1623.2,1212.5 1625.7,1213.1 1628.1,1213.8 1630.5,1214.4 1633.0,1215.1 1635.4,1215.7 1637.9,1216.4 1640.3,1217.0 1642.8,1217.6 1645.2,1218.3 1647.6,1218.9 1650.1,1219.5 1652.5,1220.2 1655.0,1220.8 1657.4,1221.4 1659.9,1222.1 1662.3,1222.7 1664.7,1223.4 1667.2,1224.0 1669.6,1224.7 1672.1,1225.3 1674.5,1226.0 1676.9,1226.6 1679.4,1227.3 1681.8,1227.9 1684.2,1228.6 1686.7,1229.3 1689.1,1230.0 1691.5,1230.6 1694.0,1231.3 1696.4,1232.0 1698.8,1232.7 1701.2,1233.4 1703.6,1234.2 1706.1,1234.9 1708.5,1235.6 1710.9,1236.4 1713.3,1237.1 1715.7,1237.9 1718.1,1238.6 1720.5,1239.4 1722.9,1240.2 1725.3,1241.0 1727.6,1241.8 1730.0,1242.6 1732.4,1243.5 1734.8,1244.3 1737.1,1245.2 1739.5,1246.0 1741.9,1246.9 1744.2,1247.8 1746.6,1248.7 1748.9,1249.6 1751.3,1250.6 1753.6,1251.5 1755.9,1252.5 1758.3,1253.5 1760.6,1254.5 1762.9,1255.5 1765.2,1256.5 1767.5,1257.6 1769.8,1258.6 1772.1,1259.7 1774.4,1260.8 1794.3,1273.3 1830.4,1292.0 1839.1,1300.7 1851.5,1301.9 1856.5,1304.4 1861.5,1316.5" fill="none" stroke="#0000ff" stroke-width="6.5" stroke-linejoin="round"/>
<g shape-rendering="crispEdges">
<rect x="602" y="1303.2" width="1" height="13.3" fill="#ff0000"/>
<rect x="627" y="1296.6" width="1" height="19.9" fill="#ff0000"/>
<rect x="652" y="1290.5" width="1" height="26.0" fill="#ff0000"/>
<rect x="677" y="1284.7" width="1" height="31.8" fill="#ff0000"/>
<rect x="702" y="1279.2" width="1" height="37.3" fill="#ff0000"/>
<rect x="727" y="1274.0" width="1" height="42.5" fill="#ff0000"/>
<rect x="752" y="1268.6" width="1" height="47.9" fill="#ff0000"/>
<rect x="777" y="1262.4" width="1" height="54.1" fill="#ff0000"/>
<rect x="802" y="1254.8" width="1" height="61.7" fill="#ff0000"/>
<rect x="827" y="1245.4" width="1" height="71.1" fill="#ff0000"/>
<rect x="852" y="1233.9" width="1" height="82.6" fill="#ff0000"/>
<rect x="877" y="1220.1" width="1" height="96.4" fill="#ff0000"/>
<rect x="902" y="1203.6" width="1" height="112.9" fill="#ff0000"/>
<rect x="1202" y="417.6" width="1" height="898.9" fill="#ff0000"/>
<rect x="1227" y="376.7" width="1" height="939.8" fill="#ff0000"/>
<rect x="1252" y="358.6" width="1" height="957.9" fill="#ff0000"/>
<rect x="1277" y="367.0" width="1" height="949.5" fill="#ff0000"/>
<rect x="1302" y="398.1" width="1" height="918.4" fill="#ff0000"/>
<rect x="1328" y="476.6" width="1" height="839.9" fill="#ff0000"/>
<rect x="1353" y="578.9" width="1" height="737.6" fill="#ff0000"/>
<rect x="1378" y="733.1" width="1" height="583.4" fill="#ff0000"/>
<rect x="1403" y="865.5" width="1" height="451.0" fill="#ff0000"/>
<rect x="1428" y="980.4" width="1" height="336.1" fill="#ff0000"/>
<rect x="1453" y="1080.7" width="1" height="235.8" fill="#ff0000"/>
<rect x="1478" y="1156.9" width="1" height="159.6" fill="#ff0000"/>
<rect x="1503" y="1211.0" width="1" height="105.5" fill="#ff0000"/>
<rect x="1528" y="1251.0" width="1" height="65.5" fill="#ff0000"/>
<rect x="1553" y="1281.8" width="1" height="34.7" fill="#ff0000"/>
<rect x="1578" y="1300.9" width="1" height="15.6" fill="#ff0000"/>
<rect x="1603" y="1305.3" width="1" height="11.2" fill="#ff0000"/>
</g>
<polyline points="262.0,1316.5 552.4,1316.5 577.4,1310.0 579.8,1309.3 582.1,1308.7 584.5,1308.0 586.9,1307.3 589.2,1306.7 591.6,1306.0 594.0,1305.4 596.4,1304.7 598.8,1304.1 601.2,1303.4 603.6,1302.8 606.0,1302.1 608.4,1301.5 610.8,1300.9 613.3,1300.2 615.7,1299.6 618.1,1299.0 620.5,1298.3 623.0,1297.7 625.4,1297.1 627.8,1296.5 630.3,1295.9 632.7,1295.3 635.1,1294.6 637.6,1294.0 640.0,1293.4 642.5,1292.8 644.9,1292.2 647.4,1291.6 649.9,1291.1 652.3,1290.5 654.8,1289.9 657.2,1289.3 659.7,1288.7 662.2,1288.1 664.6,1287.6 667.1,1287.0 669.6,1286.4 672.0,1285.9 674.5,1285.3 677.0,1284.8 679.4,1284.2 681.9,1283.7 684.4,1283.1 686.8,1282.6 689.3,1282.0 691.8,1281.5 694.2,1281.0 696.7,1280.4 699.2,1279.9 701.7,1279.4 704.1,1278.8 706.6,1278.3 709.1,1277.8 711.5,1277.3 714.0,1276.8 716.5,1276.3 718.9,1275.8 721.4,1275.3 723.9,1274.7 726.3,1274.2 728.8,1273.7 731.2,1273.2 733.7,1272.7 736.1,1272.2 738.6,1271.6 741.0,1271.1 743.5,1270.6 745.9,1270.0 748.4,1269.5 750.8,1269.0 753.3,1268.4 755.7,1267.8 758.1,1267.3 760.6,1266.7 763.0,1266.1 765.4,1265.5 767.8,1264.9 770.2,1264.3 772.7,1263.7 775.1,1263.0 777.5,1262.4 779.9,1261.7 782.3,1261.0 784.7,1260.4 787.1,1259.7 789.5,1258.9 791.8,1258.2 794.2,1257.5 796.6,1256.7 799.0,1255.9 801.3,1255.2 803.7,1254.4 806.0,1253.5 808.4,1252.7 810.7,1251.9 813.1,1251.0 815.4,1250.1 817.7,1249.2 820.1,1248.3 822.4,1247.4 824.7,1246.5 827.0,1245.5 829.3,1244.6 831.6,1243.6 833.9,1242.6 836.2,1241.6 838.4,1240.6 840.7,1239.5 843.0,1238.5 845.2,1237.4 847.5,1236.3 849.7,1235.2 852.0,1234.1 854.2,1233.0 856.4,1231.9 858.6,1230.7 860.8,1229.5 863.0,1228.4 865.2,1227.2 867.4,1225.9 869.6,1224.7 871.8,1223.5 873.9,1222.2 876.1,1220.9 878.2,1219.6 880.4,1218.3 882.5,1217.0 884.6,1215.7 886.7,1214.3 888.8,1213.0 890.9,1211.6 893.0,1210.2 895.1,1208.8 897.1,1207.4 899.2,1205.9 901.2,1204.5 903.3,1203.0 905.3,1201.5 907.3,1200.0 909.3,1198.5 911.3,1197.0 913.3,1195.5 915.3,1193.9 917.3,1192.3 919.2,1190.8 921.2,1189.2 923.1,1187.5 925.0,1185.9 927.0,1184.3 928.9,1182.6 930.8,1180.9 932.6,1179.2 934.5,1177.5 936.4,1175.8 938.2,1174.1 940.1,1172.3 941.9,1170.6 943.7,1168.8 945.1,1166.7 946.4,1164.5 947.8,1162.4 949.1,1160.2 950.5,1158.1 951.9,1156.0 953.2,1153.8 954.6,1151.7 955.9,1149.6 957.3,1147.4 958.7,1145.3 960.1,1143.2 961.4,1141.0 962.8,1138.9 964.2,1136.8 965.5,1134.7 966.9,1132.5 968.3,1130.4 969.7,1128.3 971.0,1126.1 972.4,1124.0 973.8,1121.9 975.1,1119.7 976.5,1117.6 977.9,1115.5 979.2,1113.3 980.6,1111.2 982.0,1109.1 983.3,1106.9 984.7,1104.8 986.0,1102.7 987.4,1100.5 988.7,1098.4 990.1,1096.2 991.4,1094.1 992.8,1091.9 994.1,1089.8 995.4,1087.6 996.8,1085.5 998.1,1083.3 999.4,1081.2 1000.7,1079.0 1002.0,1076.8 1003.4,1074.7 1004.7,1072.5 1006.0,1070.3 1007.3,1068.1 1008.6,1066.0 1009.8,1063.8 1011.1,1061.6 1012.4,1059.4 1013.7,1057.2 1014.9,1055.0 1016.2,1052.8 1017.0,1050.4 1017.8,1048.0 1018.6,1045.6 1019.4,1043.3 1020.2,1040.9 1020.9,1038.5 1021.7,1036.1 1022.5,1033.7 1023.3,1031.3 1024.1,1028.9 1024.8,1026.5 1025.6,1024.1 1026.4,1021.8 1027.2,1019.4 1027.9,1017.0 1028.7,1014.6 1029.5,1012.2 1030.2,1009.8 1031.0,1007.4 1031.8,1005.0 1032.5,1002.6 1033.3,1000.2 1034.1,997.8 1034.9,995.4 1035.6,993.0 1036.4,990.6 1037.2,988.3 1037.9,985.9 1038.7,983.5 1039.5,981.1 1040.2,978.7 1041.0,976.3 1041.8,973.9 1042.5,971.5 1043.3,969.1 1044.1,966.7 1044.8,964.3 1045.6,961.9 1046.4,959.6 1047.2,957.2 1048.0,954.8 1048.7,952.4 1049.5,950.0 1050.3,947.6 1051.1,945.2 1051.9,942.8 1052.6,940.5 1053.4,938.1 1054.2,935.7 1055.0,933.3 1055.8,930.9 1056.6,928.5 1057.4,926.2 1058.2,923.8 1059.0,921.4 1059.8,919.0 1060.6,916.6 1061.5,914.3 1062.3,911.9 1063.1,909.5 1063.9,907.1 1064.8,904.8 1065.6,902.4 1066.4,900.0 1067.3,897.7 1068.1,895.3 1068.9,892.9 1069.8,890.6 1070.6,888.2 1071.5,885.8 1072.4,883.5 1073.2,881.1 1074.1,878.8 1075.0,876.4 1075.8,874.1 1076.7,871.7 1077.6,869.3 1078.5,867.0 1079.2,864.6 1079.9,862.2 1080.6,859.8 1081.2,857.4 1081.9,854.9 1082.6,852.5 1083.3,850.1 1083.9,847.7 1084.6,845.3 1085.3,842.9 1086.0,840.5 1086.6,838.0 1087.3,835.6 1088.0,833.2 1088.6,830.8 1089.3,828.4 1089.9,825.9 1090.6,823.5 1091.2,821.1 1091.9,818.7 1092.6,816.3 1093.2,813.8 1093.9,811.4 1094.5,809.0 1095.1,806.6 1095.8,804.1 1096.4,801.7 1097.1,799.3 1097.7,796.9 1098.4,794.4 1099.0,792.0 1099.6,789.6 1100.3,787.2 1100.9,784.7 1101.5,782.3 1102.2,779.9 1102.8,777.5 1103.4,775.0 1104.1,772.6 1104.7,770.2 1105.3,767.8 1106.0,765.3 1106.6,762.9 1107.2,760.5 1107.8,758.0 1108.5,755.6 1109.1,753.2 1109.7,750.7 1110.3,748.3 1110.9,745.9 1111.6,743.5 1112.2,741.0 1112.8,738.6 1113.4,736.2 1114.0,733.7 1114.7,731.3 1115.3,728.9 1115.9,726.4 1116.5,724.0 1117.1,721.6 1117.7,719.1 1118.4,716.7 1119.0,714.3 1119.6,711.8 1120.2,709.4 1120.8,707.0 1121.4,704.6 1122.1,702.1 1122.7,699.7 1123.3,697.3 1123.9,694.8 1124.5,692.4 1125.1,690.0 1125.7,687.5 1126.4,685.1 1127.0,682.7 1127.6,680.2 1128.2,677.8 1128.8,675.4 1129.4,672.9 1130.1,670.5 1130.7,668.1 1131.3,665.6 1131.9,663.2 1132.5,660.8 1133.1,658.3 1133.8,655.9 1134.4,653.5 1135.0,651.0 1135.6,648.6 1136.2,646.2 1136.9,643.8 1137.5,641.3 1138.1,638.9 1138.7,636.5 1139.3,634.0 1140.0,631.6 1140.6,629.2 1141.2,626.7 1141.8,624.3 1142.5,621.9 1143.1,619.5 1143.7,617.0 1144.4,614.6 1145.0,612.2 1145.6,609.7 1146.3,607.3 1146.9,604.9 1147.5,602.5 1148.2,600.0 1148.8,597.6 1149.4,595.2 1150.1,592.8 1150.7,590.3 1151.4,587.9 1152.0,585.5 1152.7,583.1 1153.3,580.6 1154.0,578.2 1154.6,575.8 1155.3,573.4 1155.9,571.0 1156.6,568.5 1157.2,566.1 1157.9,563.7 1158.5,561.3 1159.2,558.8 1159.9,556.4 1160.5,554.0 1161.2,551.6 1161.8,549.2 1162.5,546.8 1163.2,544.3 1163.9,541.9 1164.5,539.5 1165.2,537.1 1165.9,534.7 1166.6,532.3 1167.3,529.9 1167.9,527.4 1168.6,525.0 1169.3,522.6 1170.0,520.2 1170.7,517.8 1171.4,515.4 1172.1,513.0 1172.8,510.6 1173.5,508.2 1174.2,505.8 1174.9,503.4 1175.6,500.9 1176.3,498.5 1177.0,496.1 1177.7,493.7 1178.5,491.3 1179.2,488.9 1179.9,486.5 1180.6,484.1 1181.4,481.7 1182.1,479.3 1182.8,476.9 1183.6,474.5 1184.3,472.1 1185.0,469.7 1185.8,467.3 1186.5,465.0 1187.3,462.6 1188.0,460.2 1188.8,457.8 1189.6,455.4 1190.3,453.0 1191.1,450.6 1191.8,448.2 1192.6,445.8 1193.4,443.4 1194.2,441.1 1195.0,438.7 1195.7,436.3 1196.5,433.9 1197.3,431.5 1198.1,429.1 1198.9,426.8 1199.7,424.4 1200.5,422.0 1208.7,406.5 1220.2,382.2 1257.9,355.0 1294.5,377.0 1295.5,379.3 1296.4,381.6 1297.4,384.0 1298.3,386.3 1299.3,388.6 1300.2,391.0 1301.1,393.3 1302.0,395.6 1302.9,398.0 1303.8,400.3 1304.7,402.7 1305.6,405.0 1306.4,407.4 1307.3,409.7 1308.1,412.1 1308.9,414.5 1309.8,416.8 1310.6,419.2 1311.4,421.6 1312.2,423.9 1313.0,426.3 1313.8,428.7 1314.5,431.1 1315.3,433.4 1316.1,435.8 1316.8,438.2 1317.6,440.6 1318.3,443.0 1319.0,445.4 1319.8,447.8 1320.5,450.2 1321.2,452.6 1321.9,455.0 1322.6,457.4 1323.3,459.8 1324.0,462.2 1324.7,464.6 1325.4,467.0 1326.0,469.4 1326.7,471.8 1327.4,474.2 1328.0,476.6 1328.7,479.1 1329.3,481.5 1330.0,483.9 1330.6,486.3 1331.2,488.7 1331.9,491.2 1332.5,493.6 1333.1,496.0 1333.7,498.4 1334.4,500.9 1335.0,503.3 1335.6,505.7 1336.2,508.2 1336.8,510.6 1337.4,513.0 1338.0,515.5 1338.6,517.9 1339.2,520.3 1339.8,522.8 1340.4,525.2 1340.9,527.6 1341.5,530.1 1342.1,532.5 1342.7,534.9 1343.3,537.4 1343.8,539.8 1344.4,542.3 1345.0,544.7 1345.6,547.1 1346.1,549.6 1346.7,552.0 1347.3,554.5 1347.9,556.9 1348.4,559.3 1349.0,561.8 1349.6,564.2 1350.2,566.7 1350.7,569.1 1351.3,571.5 1351.9,574.0 1352.4,576.4 1353.0,578.9 1353.6,581.3 1354.0,583.8 1354.3,586.2 1354.7,588.7 1355.1,591.2 1355.4,593.7 1355.8,596.1 1356.2,598.6 1356.6,601.1 1356.9,603.5 1357.3,606.0 1357.7,608.5 1358.1,611.0 1358.4,613.4 1358.8,615.9 1359.2,618.4 1359.6,620.8 1360.0,623.3 1360.3,625.8 1360.7,628.2 1361.1,630.7 1361.5,633.2 1361.9,635.7 1362.3,638.1 1362.7,640.6 1363.1,643.1 1363.4,645.5 1363.8,648.0 1364.2,650.5 1364.6,652.9 1365.0,655.4 1365.4,657.9 1365.8,660.3 1366.2,662.8 1366.6,665.3 1367.0,667.7 1367.4,670.2 1367.8,672.7 1368.2,675.1 1368.6,677.6 1369.0,680.1 1369.4,682.5 1369.9,685.0 1370.3,687.5 1370.7,689.9 1371.1,692.4 1371.5,694.8 1371.9,697.3 1372.3,699.8 1372.7,702.2 1373.2,704.7 1373.6,707.2 1374.0,709.6 1374.4,712.1 1374.8,714.6 1375.3,717.0 1375.7,719.5 1376.1,721.9 1376.5,724.4 1377.0,726.9 1377.4,729.3 1377.8,731.8 1378.3,734.3 1378.7,736.7 1379.1,739.2 1379.6,741.6 1380.0,744.1 1380.4,746.6 1380.9,749.0 1381.3,751.5 1381.8,753.9 1382.2,756.4 1382.6,758.9 1383.1,761.3 1383.5,763.8 1384.0,766.2 1384.4,768.7 1384.9,771.2 1385.3,773.6 1385.8,776.1 1386.2,778.5 1386.7,781.0 1387.1,783.5 1387.6,785.9 1388.1,788.4 1388.5,790.8 1389.0,793.3 1389.4,795.8 1389.9,798.2 1390.4,800.7 1390.8,803.1 1391.3,805.6 1391.8,808.0 1392.2,810.5 1392.7,813.0 1393.2,815.4 1393.6,817.9 1394.1,820.3 1394.6,822.8 1395.1,825.2 1395.6,827.7 1396.0,830.2 1396.5,832.6 1397.0,835.1 1397.5,837.5 1398.0,840.0 1398.5,842.4 1398.9,844.9 1399.4,847.3 1399.9,849.8 1400.4,852.3 1400.9,854.7 1401.4,857.2 1401.9,859.6 1402.4,862.1 1402.9,864.5 1403.4,867.0 1403.9,869.4 1404.4,871.9 1404.9,874.3 1405.4,876.8 1405.9,879.2 1406.4,881.7 1406.9,884.2 1407.4,886.6 1408.0,889.1 1408.5,891.5 1409.0,894.0 1409.5,896.4 1410.0,898.9 1410.5,901.3 1411.1,903.8 1411.6,906.2 1412.1,908.7 1412.6,911.1 1413.2,913.6 1413.7,916.0 1414.2,918.5 1414.8,920.9 1415.3,923.4 1415.8,925.8 1416.4,928.3 1416.9,930.7 1417.4,933.2 1418.0,935.6 1418.5,938.1 1419.1,940.5 1419.6,943.0 1420.1,945.4 1420.7,947.9 1421.2,950.3 1421.8,952.8 1422.3,955.2 1422.9,957.7 1423.5,960.1 1424.0,962.6 1424.6,965.0 1425.1,967.5 1425.7,969.9 1426.3,972.4 1426.8,974.8 1427.4,977.3 1428.0,979.7 1428.5,982.2 1429.1,984.6 1429.7,987.1 1430.2,989.5 1430.8,992.0 1431.4,994.4 1432.0,996.9 1432.5,999.3 1433.1,1001.8 1433.7,1004.2 1434.3,1006.6 1434.9,1009.1 1435.5,1011.5 1436.1,1014.0 1436.7,1016.4 1437.2,1018.9 1437.8,1021.3 1438.4,1023.8 1439.0,1026.2 1439.6,1028.7 1440.2,1031.1 1440.8,1033.6 1441.4,1036.0 1442.1,1038.4 1442.7,1040.9 1443.3,1043.3 1443.9,1045.8 1444.5,1048.2 1445.1,1050.6 1445.8,1053.1 1446.4,1055.5 1447.0,1058.0 1447.7,1060.4 1448.3,1062.8 1448.9,1065.3 1449.6,1067.7 1450.2,1070.1 1450.9,1072.5 1451.6,1075.0 1452.2,1077.4 1452.9,1079.8 1453.6,1082.2 1454.3,1084.6 1454.9,1087.1 1455.6,1089.5 1456.3,1091.9 1457.0,1094.3 1457.7,1096.7 1458.4,1099.1 1459.2,1101.5 1459.9,1103.9 1460.6,1106.3 1461.4,1108.7 1462.1,1111.1 1462.9,1113.4 1463.6,1115.8 1464.4,1118.2 1465.2,1120.6 1465.9,1122.9 1466.7,1125.3 1467.5,1127.7 1468.3,1130.0 1469.1,1132.4 1470.0,1134.7 1470.8,1137.1 1471.6,1139.4 1472.5,1141.7 1473.3,1144.1 1474.2,1146.4 1475.0,1148.7 1475.9,1151.0 1476.8,1153.4 1477.7,1155.7 1478.6,1158.0 1479.5,1160.3 1480.5,1162.6 1481.4,1164.9 1482.3,1167.1 1483.3,1169.4 1484.3,1171.7 1485.2,1174.0 1486.2,1176.2 1487.2,1178.5 1488.2,1180.7 1489.2,1183.0 1490.3,1185.2 1491.3,1187.4 1492.4,1189.7 1493.4,1191.9 1494.5,1194.1 1495.6,1196.3 1496.7,1198.5 1497.8,1200.7 1498.9,1202.9 1500.0,1205.1 1501.2,1207.3 1502.4,1209.4 1503.5,1211.6 1504.7,1213.7 1505.9,1215.9 1507.1,1218.0 1508.3,1220.2 1509.6,1222.3 1510.8,1224.4 1512.1,1226.5 1513.4,1228.6 1514.7,1230.7 1516.0,1232.8 1517.3,1234.9 1518.6,1237.0 1520.0,1239.0 1521.4,1241.1 1522.7,1243.1 1524.1,1245.2 1525.5,1247.2 1527.0,1249.2 1528.4,1251.2 1529.9,1253.2 1531.3,1255.2 1532.8,1257.2 1534.3,1259.2 1535.8,1261.2 1537.4,1263.1 1538.9,1265.1 1540.5,1267.0 1542.1,1268.9 1543.7,1270.9 1545.3,1272.8 1546.9,1274.7 1548.6,1276.6 1550.3,1278.5 1551.9,1280.3 1553.6,1282.2 1555.4,1284.0 1557.1,1285.9 1558.9,1287.7 1560.6,1289.5 1562.4,1291.4 1564.2,1293.2 1566.1,1295.0 1567.9,1296.7 1569.8,1298.5 1572.2,1299.3 1574.6,1299.9 1577.1,1300.6 1579.6,1301.2 1582.1,1301.7 1584.6,1302.2 1587.1,1302.6 1589.7,1303.1 1592.2,1303.5 1594.8,1303.9 1597.3,1304.3 1599.9,1304.7 1602.4,1305.1 1605.0,1305.6 1607.5,1306.1 1610.0,1306.6 1612.5,1307.1 1615.0,1307.7 1617.4,1308.4 1619.9,1309.1 1622.3,1309.9 1624.7,1310.7 1627.0,1311.7 1629.3,1312.7 1631.6,1313.9 1633.8,1315.1 1636.0,1316.5" fill="none" stroke="#ff0000" stroke-width="6.5" stroke-linejoin="round"/>
<polyline points="262.0,1316.5 650.0,1317.5 652.5,1317.4 655.0,1317.3 657.5,1317.2 660.1,1317.0 662.6,1316.9 665.1,1316.8 667.6,1316.6 670.1,1316.5 672.6,1316.3 675.1,1316.1 677.6,1316.0 680.1,1315.8 682.6,1315.6 685.1,1315.4 687.6,1315.2 690.1,1315.0 692.6,1314.8 695.1,1314.5 697.6,1314.3 700.1,1314.1 702.6,1313.8 705.1,1313.6 707.6,1313.3 710.1,1313.0 712.6,1312.8 715.1,1312.5 717.6,1312.2 720.1,1311.9 722.6,1311.6 725.1,1311.3 727.5,1311.0 730.0,1310.7 732.5,1310.3 735.0,1310.0 737.5,1309.7 740.0,1309.3 742.4,1308.9 744.9,1308.6 747.4,1308.2 749.9,1307.8 752.4,1307.5 754.8,1307.1 757.3,1306.7 759.8,1306.3 762.2,1305.9 764.7,1305.4 767.2,1305.0 769.7,1304.6 772.1,1304.1 774.6,1303.7 777.1,1303.3 779.5,1302.8 782.0,1302.3 784.4,1301.9 786.9,1301.4 789.4,1300.9 791.8,1300.4 794.3,1299.9 796.7,1299.4 799.2,1298.9 801.6,1298.4 804.1,1297.9 806.5,1297.3 809.0,1296.8 811.4,1296.3 813.9,1295.7 816.3,1295.2 818.8,1294.6 821.2,1294.0 823.6,1293.5 826.1,1292.9 828.5,1292.3 830.9,1291.7 833.4,1291.1 835.8,1290.5 838.2,1289.9 840.7,1289.3 843.1,1288.7 845.5,1288.0 848.0,1287.4 850.4,1286.8 852.8,1286.1 855.2,1285.5 857.6,1284.8 860.1,1284.1 862.5,1283.5 864.9,1282.8 867.3,1282.1 869.7,1281.4 872.1,1280.7 874.5,1280.0 877.0,1279.3 879.4,1278.6 881.8,1277.9 884.2,1277.1 886.6,1276.4 889.0,1275.7 891.4,1274.9 893.8,1274.2 896.2,1273.4 898.5,1272.7 900.9,1271.9 903.3,1271.1 905.7,1270.3 908.1,1269.6 910.5,1268.8 912.9,1268.0 915.3,1267.2 917.6,1266.4 920.0,1265.5 922.4,1264.7 924.8,1263.9 927.1,1263.1 929.5,1262.2 931.9,1261.4 934.2,1260.5 936.6,1259.7 939.0,1258.8 941.3,1258.0 943.7,1257.1 946.0,1256.0 948.3,1254.9 950.6,1253.8 952.8,1252.6 955.1,1251.4 957.3,1250.2 959.5,1249.0 961.7,1247.7 963.9,1246.4 966.0,1245.1 968.2,1243.8 970.3,1242.5 972.4,1241.1 974.6,1239.8 976.7,1238.4 978.8,1237.0 980.9,1235.6 983.0,1234.2 985.1,1232.7 987.2,1231.3 989.3,1229.9 991.3,1228.4 993.4,1227.0 995.5,1225.6 997.6,1224.1 999.7,1222.7 1001.7,1221.2 1003.8,1219.8 1005.9,1218.4 1008.0,1216.9 1010.1,1215.5 1012.2,1214.1 1014.3,1212.7 1016.4,1211.3 1018.1,1209.4 1019.7,1207.5 1021.4,1205.6 1023.1,1203.7 1024.7,1201.8 1026.3,1199.9 1028.0,1198.0 1029.6,1196.1 1031.2,1194.1 1032.8,1192.2 1034.4,1190.2 1036.0,1188.3 1037.5,1186.3 1039.1,1184.4 1040.7,1182.4 1042.2,1180.4 1043.7,1178.5 1045.3,1176.5 1046.8,1174.5 1048.3,1172.5 1049.8,1170.5 1051.3,1168.5 1052.8,1166.5 1054.3,1164.5 1055.8,1162.4 1057.2,1160.4 1058.7,1158.4 1060.1,1156.3 1061.6,1154.3 1063.0,1152.3 1064.4,1150.2 1065.8,1148.1 1067.2,1146.1 1068.6,1144.0 1070.0,1142.0 1071.4,1139.9 1072.8,1137.8 1074.1,1135.7 1075.5,1133.6 1076.8,1131.5 1078.2,1129.4 1079.5,1127.3 1080.8,1125.2 1082.2,1123.1 1083.5,1121.0 1084.8,1118.8 1086.1,1116.7 1087.3,1114.6 1088.6,1112.5 1089.9,1110.3 1091.2,1108.2 1092.4,1106.0 1093.7,1103.9 1094.9,1101.7 1096.1,1099.5 1097.3,1097.4 1098.6,1095.2 1099.8,1093.0 1101.0,1090.8 1102.2,1088.7 1103.3,1086.5 1104.5,1084.3 1105.7,1082.1 1106.8,1079.9 1108.0,1077.7 1109.1,1075.5 1110.3,1073.3 1111.4,1071.0 1112.5,1068.8 1113.6,1066.6 1114.7,1064.4 1115.8,1062.1 1116.9,1059.9 1118.0,1057.7 1119.1,1055.4 1120.2,1053.2 1121.2,1050.9 1122.3,1048.7 1123.3,1046.4 1124.4,1044.2 1125.4,1041.9 1126.4,1039.6 1127.5,1037.4 1128.5,1035.1 1129.5,1032.8 1130.5,1030.5 1131.5,1028.3 1132.5,1026.0 1133.4,1023.7 1134.4,1021.4 1135.4,1019.1 1136.3,1016.8 1137.3,1014.5 1138.2,1012.2 1139.2,1009.9 1140.1,1007.6 1141.0,1005.3 1142.0,1002.9 1142.9,1000.6 1143.8,998.3 1144.7,996.0 1145.6,993.7 1146.5,991.3 1147.4,989.0 1148.3,986.7 1149.1,984.3 1150.0,982.0 1150.9,979.6 1151.7,977.3 1152.6,975.0 1153.4,972.6 1154.2,970.2 1155.1,967.9 1155.9,965.5 1156.7,963.2 1157.5,960.8 1158.4,958.5 1159.2,956.1 1160.0,953.7 1160.8,951.4 1161.5,949.0 1162.3,946.6 1163.1,944.2 1163.9,941.9 1164.7,939.5 1165.4,937.1 1166.2,934.7 1166.9,932.3 1167.7,929.9 1168.4,927.5 1169.2,925.2 1169.9,922.8 1170.6,920.4 1171.4,918.0 1172.1,915.6 1172.8,913.2 1173.5,910.8 1174.2,908.4 1174.9,906.0 1175.6,903.6 1176.3,901.2 1177.0,898.7 1177.7,896.3 1178.4,893.9 1179.1,891.5 1179.8,889.1 1180.4,886.7 1181.1,884.3 1181.8,881.9 1182.4,879.4 1183.1,877.0 1183.7,874.6 1184.4,872.2 1185.0,869.7 1185.7,867.3 1186.3,864.9 1187.0,862.5 1187.6,860.1 1188.2,857.6 1188.9,855.2 1189.5,852.8 1190.1,850.3 1190.7,847.9 1191.4,845.5 1192.0,843.0 1192.6,840.6 1193.2,838.2 1193.8,835.8 1194.4,833.3 1195.0,830.9 1195.6,828.4 1196.2,826.0 1196.8,823.6 1197.4,821.1 1198.0,818.7 1198.6,816.3 1199.2,813.8 1199.7,811.4 1200.3,809.0 1200.9,806.5 1201.5,804.1 1202.1,801.7 1202.6,799.2 1203.2,796.8 1203.8,794.3 1204.4,791.9 1204.9,789.5 1205.5,787.0 1206.1,784.6 1206.6,782.2 1207.2,779.7 1207.7,777.3 1208.3,774.9 1208.9,772.4 1209.4,770.0 1210.0,767.6 1210.5,765.1 1211.1,762.7 1211.6,760.3 1212.2,757.8 1212.8,755.4 1213.3,753.0 1213.9,750.5 1214.4,748.1 1215.0,745.7 1215.5,743.2 1216.1,740.8 1216.6,738.4 1217.2,736.0 1217.7,733.5 1218.3,731.1 1218.8,728.7 1219.4,726.3 1219.9,723.8 1220.5,721.4 1221.0,719.0 1221.0,719.0 1221.9,716.8 1222.8,714.5 1223.7,712.3 1224.6,710.0 1225.5,707.8 1226.4,705.5 1227.4,703.3 1228.3,701.0 1229.2,698.7 1230.1,696.5 1231.0,694.2 1231.9,691.9 1232.8,689.6 1233.7,687.4 1234.6,685.1 1235.6,682.8 1236.5,680.5 1237.4,678.2 1238.3,675.9 1239.2,673.6 1240.1,671.3 1241.0,669.0 1241.9,666.7 1242.8,664.4 1243.8,662.1 1244.7,659.8 1245.6,657.5 1246.5,655.2 1247.4,652.8 1248.3,650.5 1249.2,648.2 1250.1,645.9 1251.0,643.5 1251.9,641.2 1252.8,638.9 1253.7,636.5 1254.7,634.2 1255.6,631.9 1256.5,629.5 1257.4,627.2 1258.3,624.8 1259.2,622.5 1260.1,620.1 1261.0,617.8 1261.9,615.4 1262.8,613.1 1263.6,610.7 1264.5,608.4 1265.4,606.0 1266.3,603.6 1267.2,601.3 1268.1,598.9 1269.0,596.5 1269.9,594.2 1270.8,591.8 1271.6,589.4 1272.5,587.1 1273.4,584.7 1274.3,582.3 1275.1,579.9 1276.0,577.6 1276.9,575.2 1277.8,572.8 1278.6,570.4 1279.5,568.1 1280.4,565.7 1281.2,563.3 1282.1,560.9 1282.9,558.5 1283.8,556.2 1284.7,553.8 1285.5,551.4 1286.4,549.0 1287.2,546.6 1288.0,544.2 1288.9,541.8 1289.7,539.4 1290.6,537.1 1291.4,534.7 1292.2,532.3 1293.1,529.9 1293.9,527.5 1294.7,525.1 1295.5,522.7 1296.4,520.3 1297.2,517.9 1298.0,515.5 1298.8,513.2 1299.6,510.8 1300.5,508.4 1301.3,506.0 1302.1,503.6 1302.9,501.2 1303.7,498.8 1304.5,496.4 1305.3,494.0 1306.1,491.6 1306.9,489.3 1307.7,486.9 1308.5,484.5 1309.3,482.1 1310.1,479.7 1311.0,477.3 1311.8,474.9 1312.6,472.5 1313.4,470.1 1314.2,467.8 1315.0,465.4 1315.8,463.0 1316.6,460.6 1317.4,458.2 1318.2,455.9 1319.0,453.5 1319.8,451.1 1320.7,448.7 1321.5,446.3 1322.3,444.0 1323.1,441.6 1323.9,439.2 1324.8,436.8 1325.6,434.5 1326.4,432.1 1327.2,429.7 1328.1,427.4 1328.9,425.0 1329.7,422.6 1330.6,420.3 1331.4,417.9 1332.3,415.5 1333.1,413.2 1334.0,410.8 1334.8,408.5 1335.7,406.1 1336.5,403.8 1337.4,401.4 1338.3,399.1 1339.1,396.7 1340.0,394.4 1340.9,392.0 1341.8,389.7 1342.6,387.4 1343.5,385.0 1344.4,382.7 1345.3,380.3 1346.2,378.0 1347.1,375.7 1348.1,373.4 1349.0,371.0 1349.9,368.7 1350.8,366.4 1351.8,364.1 1352.7,361.8 1353.6,359.5 1354.6,357.2 1355.5,354.9 1356.5,352.6 1357.5,350.3 1358.4,348.0 1359.4,345.7 1360.4,343.4 1361.4,341.1 1362.4,338.8 1363.4,336.5 1364.4,334.3 1365.4,332.0 1366.4,329.7 1367.4,327.5 1368.5,325.2 1369.5,322.9 1370.6,320.7 1371.6,318.4 1372.7,316.2 1373.7,314.0 1374.8,311.7 1375.9,309.5 1377.0,307.3 1378.1,305.0 1379.2,302.8 1380.3,300.6 1381.4,298.4 1382.6,296.2 1383.7,294.0 1384.8,291.8 1386.0,289.6 1387.1,287.4 1388.3,285.2 1389.5,283.1 1390.7,280.9 1391.9,278.7 1393.1,276.6 1394.3,274.4 1395.5,272.3 1396.7,270.1 1398.0,268.0 1399.2,265.8 1400.5,263.7 1401.8,261.6 1403.0,259.5 1404.3,257.4 1405.6,255.3 1406.9,253.2 1408.2,251.1 1409.6,249.0 1410.9,246.9 1412.3,244.8 1413.6,242.8 1415.0,240.7 1416.4,238.6 1417.7,236.6 1419.1,234.5 1420.5,232.5 1422.0,230.5 1423.4,228.4 1424.8,226.4 1426.3,224.4 1427.8,222.4 1429.2,220.4 1430.7,218.4 1432.2,216.4 1433.7,214.5 1435.2,212.5 1436.8,210.5 1438.3,208.6 1439.9,206.6 1441.4,204.7 1443.0,202.8 1444.6,200.8 1446.2,198.9 1447.8,197.0 1449.4,195.1 1451.0,193.2 1452.7,191.3 1454.3,189.5 1456.0,187.6 1457.6,185.7 1459.3,183.9 1461.0,182.0 1462.7,180.2 1464.4,178.4 1466.1,176.5 1467.8,174.7 1469.6,172.9 1471.3,171.1 1473.1,169.3 1474.9,167.6 1476.6,165.8 1478.4,164.0 1480.2,162.3 1482.0,160.5 1483.8,158.8 1485.7,157.1 1487.5,155.4 1489.4,153.7 1491.2,152.0 1493.1,150.3 1495.0,148.6 1496.8,146.9 1498.7,145.3 1500.6,143.6 1502.5,142.0 1504.5,140.3 1506.4,138.7 1508.3,137.1 1510.3,135.5 1512.3,133.9 1514.2,132.3 1516.2,130.8 1518.2,129.2 1520.2,127.7 1522.2,126.1 1524.2,124.6 1526.2,123.1 1528.3,121.6 1530.3,120.1 1532.3,118.6 1534.4,117.1 1536.8,116.3 1539.1,115.4 1541.5,114.6 1543.8,113.8 1546.2,112.9 1548.5,112.1 1550.9,111.3 1553.3,110.4 1555.6,109.6 1558.0,108.8 1560.4,108.0 1562.7,107.2 1565.1,106.3 1567.5,105.5 1569.8,104.7 1572.2,103.9 1574.6,103.1 1577.0,102.3 1579.3,101.5 1581.7,100.7 1584.1,99.9 1586.5,99.1 1588.8,98.3 1591.2,97.6 1593.6,96.8 1596.0,96.0 1598.4,95.2 1600.8,94.5 1603.1,93.7 1605.5,92.9 1607.9,92.2 1610.3,91.4 1612.7,90.7 1615.1,89.9 1617.5,89.2 1619.9,88.4 1622.3,87.7 1624.7,87.0 1627.1,86.3 1629.5,85.5 1631.9,84.8 1634.3,84.1 1636.7,83.4 1639.1,82.7 1641.5,82.0 1643.9,81.3 1646.3,80.6 1648.7,79.9 1651.1,79.2 1653.5,78.6 1656.0,77.9 1658.4,77.2 1660.8,76.6 1663.2,75.9 1665.6,75.3 1668.0,74.6 1670.5,74.0 1672.9,73.4 1675.3,72.7 1677.7,72.1 1680.2,71.5 1682.6,70.9 1685.0,70.3 1687.4,69.7 1689.9,69.1 1692.3,68.5 1694.7,67.9 1697.2,67.4 1699.6,66.8 1702.0,66.2 1704.5,65.7 1706.9,65.1 1709.4,64.6 1711.8,64.1 1714.3,63.5 1716.7,63.0 1719.1,62.5 1721.6,62.0 1724.0,61.5 1726.5,61.0 1728.9,60.5 1731.4,60.1 1733.9,59.6 1736.3,59.1 1738.8,58.7 1741.2,58.2 1743.7,57.8 1746.1,57.3 1748.6,56.9 1751.1,56.5 1753.5,56.1 1756.0,55.7 1758.5,55.3 1760.9,54.9 1763.4,54.5 1765.9,54.2 1768.4,53.8 1770.8,53.4 1773.3,53.1 1775.8,52.7 1778.3,52.4 1780.7,52.1 1783.2,51.8 1785.7,51.5 1788.2,51.2 1790.7,50.9 1793.2,50.6 1795.7,50.3 1798.1,50.1 1800.6,49.8 1803.1,49.6 1805.6,49.4 1808.1,49.1 1810.6,48.9 1813.1,48.7 1815.6,48.5 1818.1,48.3 1820.6,48.1 1823.1,48.0 1825.6,47.8 1828.1,47.7 1830.6,47.5 1833.2,47.4 1835.7,47.3 1838.2,47.2 1840.7,47.1 1843.2,47.0 1845.7,46.9 1848.3,46.8 1850.8,46.8 1853.3,46.7 1855.8,46.7 1858.3,46.6 1860.9,46.6 1863.4,46.6" fill="none" stroke="#000080" stroke-width="9.6" stroke-linejoin="round"/>
<polyline points="262.0,1316.5 566.0,1316.3 568.5,1316.2 571.0,1316.1 573.5,1315.9 576.0,1315.8 578.5,1315.7 581.1,1315.5 583.6,1315.4 586.1,1315.2 588.6,1315.1 591.1,1314.9 593.6,1314.7 596.1,1314.6 598.6,1314.4 601.1,1314.2 603.6,1314.0 606.1,1313.9 608.6,1313.7 611.1,1313.5 613.6,1313.3 616.1,1313.1 618.6,1312.9 621.1,1312.6 623.6,1312.4 626.1,1312.2 628.6,1312.0 631.1,1311.7 633.6,1311.5 636.1,1311.3 638.6,1311.0 641.1,1310.7 643.6,1310.5 646.1,1310.2 648.6,1309.9 651.1,1309.7 653.5,1309.4 656.0,1309.1 658.5,1308.8 661.0,1308.5 663.5,1308.2 666.0,1307.9 668.5,1307.6 670.9,1307.3 673.4,1306.9 675.9,1306.6 678.4,1306.3 680.9,1305.9 683.3,1305.6 685.8,1305.2 688.3,1304.8 690.8,1304.5 693.2,1304.1 695.7,1303.7 698.2,1303.3 700.6,1302.9 703.1,1302.5 705.6,1302.1 708.0,1301.7 710.5,1301.3 713.0,1300.8 715.4,1300.4 717.9,1300.0 720.4,1299.5 722.8,1299.1 725.3,1298.6 727.7,1298.1 730.2,1297.7 732.6,1297.2 735.1,1296.7 737.5,1296.2 740.0,1295.7 742.4,1295.2 744.9,1294.7 747.3,1294.2 749.8,1293.6 752.2,1293.1 754.6,1292.5 757.1,1292.0 759.5,1291.4 761.9,1290.9 764.4,1290.3 766.8,1289.7 769.2,1289.1 771.7,1288.5 774.1,1287.9 776.5,1287.3 779.0,1286.7 781.4,1286.1 783.8,1285.4 786.2,1284.8 788.6,1284.2 791.0,1283.5 793.5,1282.8 795.9,1282.2 798.3,1281.5 800.7,1280.8 803.1,1280.1 805.5,1279.4 807.9,1278.7 810.3,1278.0 812.7,1277.3 815.1,1276.6 817.5,1275.9 819.9,1275.1 822.3,1274.4 824.7,1273.6 827.1,1272.9 829.5,1272.1 831.8,1271.4 834.2,1270.6 836.6,1269.8 839.0,1269.0 841.4,1268.2 843.7,1267.4 846.1,1266.6 848.5,1265.8 850.8,1265.0 853.2,1264.1 855.6,1263.3 857.9,1262.5 860.3,1261.6 862.7,1260.8 865.0,1259.9 867.4,1259.0 869.7,1258.2 872.1,1257.3 874.4,1256.4 876.8,1255.5 879.1,1254.6 881.4,1253.7 883.8,1252.8 886.1,1251.9 888.4,1251.0 890.8,1250.0 893.1,1249.1 895.4,1248.2 897.7,1247.2 900.1,1246.3 902.4,1245.3 904.7,1244.3 907.0,1243.4 909.3,1242.4 911.6,1241.4 913.9,1240.4 916.3,1239.4 918.6,1238.4 920.9,1237.4 923.1,1236.4 925.4,1235.4 927.7,1234.3 930.0,1233.3 932.3,1232.3 934.6,1231.2 936.9,1230.2 939.2,1229.1 941.4,1228.1 943.7,1227.0 945.6,1225.4 947.6,1223.9 949.5,1222.3 951.4,1220.7 953.4,1219.1 955.3,1217.5 957.2,1215.9 959.1,1214.3 961.0,1212.7 962.9,1211.1 964.8,1209.5 966.7,1207.8 968.6,1206.2 970.5,1204.5 972.4,1202.9 974.3,1201.2 976.1,1199.5 978.0,1197.9 979.8,1196.2 981.7,1194.5 983.5,1192.8 985.3,1191.1 987.1,1189.3 988.9,1187.6 990.7,1185.9 992.5,1184.1 994.3,1182.4 996.1,1180.6 997.8,1178.8 999.6,1177.0 1001.3,1175.2 1003.0,1173.4 1004.7,1171.6 1006.4,1169.7 1008.1,1167.9 1009.8,1166.0 1011.4,1164.2 1013.1,1162.3 1014.7,1160.4 1016.3,1158.5 1017.5,1156.4 1018.7,1154.2 1019.9,1152.1 1021.2,1150.0 1022.4,1147.8 1023.6,1145.7 1024.8,1143.5 1026.0,1141.4 1027.3,1139.3 1028.5,1137.1 1029.7,1134.9 1030.9,1132.8 1032.1,1130.6 1033.4,1128.5 1034.6,1126.3 1035.8,1124.1 1037.0,1122.0 1038.2,1119.8 1039.5,1117.6 1040.7,1115.4 1041.9,1113.3 1043.1,1111.1 1044.3,1108.9 1045.5,1106.7 1046.7,1104.5 1047.9,1102.3 1049.1,1100.1 1050.4,1097.9 1051.6,1095.8 1052.8,1093.5 1054.0,1091.3 1055.2,1089.1 1056.4,1086.9 1057.6,1084.7 1058.7,1082.5 1059.9,1080.3 1061.1,1078.1 1062.3,1075.9 1063.5,1073.6 1064.7,1071.4 1065.8,1069.2 1067.0,1067.0 1068.2,1064.7 1069.3,1062.5 1070.5,1060.3 1071.7,1058.0 1072.8,1055.8 1074.0,1053.5 1075.1,1051.3 1076.3,1049.1 1077.4,1046.8 1078.5,1044.6 1079.7,1042.3 1080.8,1040.1 1081.9,1037.8 1083.1,1035.5 1084.2,1033.3 1085.3,1031.0 1086.4,1028.8 1087.5,1026.5 1088.6,1024.2 1089.7,1021.9 1090.8,1019.7 1091.8,1017.4 1092.9,1015.1 1094.0,1012.8 1095.0,1010.6 1096.1,1008.3 1097.2,1006.0 1098.2,1003.7 1099.2,1001.4 1100.3,999.1 1101.3,996.8 1102.3,994.6 1103.4,992.3 1104.4,990.0 1105.4,987.7 1106.4,985.4 1107.4,983.1 1108.4,980.8 1109.4,978.4 1110.3,976.1 1111.3,973.8 1112.3,971.5 1113.3,969.2 1114.2,966.9 1115.2,964.6 1116.1,962.3 1117.1,959.9 1118.0,957.6 1118.9,955.3 1119.9,953.0 1120.8,950.6 1121.7,948.3 1122.6,946.0 1123.5,943.7 1124.4,941.3 1125.3,939.0 1126.2,936.6 1127.1,934.3 1128.0,932.0 1128.9,929.6 1129.7,927.3 1130.6,924.9 1131.5,922.6 1132.3,920.2 1133.2,917.9 1134.0,915.6 1134.9,913.2 1135.7,910.8 1136.5,908.5 1137.4,906.1 1138.2,903.8 1139.0,901.4 1139.8,899.1 1140.6,896.7 1141.4,894.3 1142.2,892.0 1143.0,889.6 1143.8,887.2 1144.6,884.9 1145.4,882.5 1146.2,880.1 1146.9,877.8 1147.7,875.4 1148.5,873.0 1149.2,870.6 1150.0,868.3 1150.7,865.9 1151.5,863.5 1152.2,861.1 1152.9,858.7 1153.7,856.4 1154.4,854.0 1155.1,851.6 1155.8,849.2 1156.5,846.8 1157.3,844.4 1158.0,842.0 1158.7,839.6 1159.4,837.2 1160.1,834.9 1160.7,832.5 1161.4,830.1 1162.1,827.7 1162.8,825.3 1163.5,822.9 1164.1,820.5 1164.8,818.1 1165.5,815.7 1166.1,813.3 1166.8,810.9 1167.5,808.5 1168.1,806.0 1168.8,803.6 1169.4,801.2 1170.0,798.8 1170.7,796.4 1171.3,794.0 1172.0,791.6 1172.6,789.2 1173.2,786.8 1173.8,784.4 1174.5,781.9 1175.1,779.5 1175.7,777.1 1176.3,774.7 1176.9,772.3 1177.5,769.8 1178.2,767.4 1178.8,765.0 1179.4,762.6 1180.0,760.2 1180.6,757.7 1181.2,755.3 1181.8,752.9 1182.4,750.5 1183.0,748.0 1183.5,745.6 1184.1,743.2 1184.7,740.8 1185.3,738.3 1185.9,735.9 1186.5,733.5 1187.0,731.0 1187.6,728.6 1188.2,726.2 1188.8,723.8 1189.4,721.3 1189.9,718.9 1190.5,716.5 1191.1,714.0 1191.6,711.6 1192.2,709.2 1192.8,706.7 1193.3,704.3 1193.9,701.8 1194.5,699.4 1195.0,697.0 1195.6,694.5 1196.2,692.1 1196.7,689.7 1197.3,687.2 1197.9,684.8 1198.4,682.3 1199.0,679.9 1199.5,677.5 1200.1,675.0 1200.7,672.6 1201.2,670.1 1201.8,667.7 1202.3,665.2 1202.9,662.8 1203.4,660.4 1204.0,657.9 1204.6,655.5 1205.1,653.0 1205.7,650.6 1206.2,648.1 1206.8,645.7 1207.4,643.3 1207.9,640.8 1208.5,638.4 1209.1,635.9 1209.6,633.5 1210.2,631.0 1210.7,628.6 1211.3,626.1 1211.9,623.7 1212.4,621.2 1213.0,618.8 1213.6,616.4 1214.1,613.9 1214.7,611.5 1215.3,609.0 1215.9,606.6 1216.4,604.1 1217.0,601.7 1217.6,599.2 1218.2,596.8 1218.8,594.3 1219.3,591.9 1219.9,589.4 1220.5,587.0 1221.5,584.7 1222.4,582.5 1223.4,580.2 1224.4,577.9 1225.3,575.6 1226.3,573.4 1227.3,571.1 1228.2,568.8 1229.2,566.5 1230.1,564.2 1231.0,561.9 1232.0,559.7 1232.9,557.4 1233.9,555.1 1234.8,552.8 1235.7,550.5 1236.6,548.2 1237.6,545.9 1238.5,543.6 1239.4,541.2 1240.3,538.9 1241.2,536.6 1242.1,534.3 1243.1,532.0 1244.0,529.7 1244.9,527.4 1245.8,525.0 1246.7,522.7 1247.6,520.4 1248.5,518.1 1249.4,515.7 1250.3,513.4 1251.1,511.1 1252.0,508.7 1252.9,506.4 1253.8,504.1 1254.7,501.7 1255.6,499.4 1256.5,497.0 1257.3,494.7 1258.2,492.4 1259.1,490.0 1260.0,487.7 1260.8,485.3 1261.7,483.0 1262.6,480.6 1263.5,478.3 1264.3,475.9 1265.2,473.6 1266.1,471.2 1266.9,468.9 1267.8,466.5 1268.7,464.2 1269.5,461.8 1270.4,459.4 1271.3,457.1 1272.1,454.7 1273.0,452.4 1273.8,450.0 1274.7,447.6 1275.6,445.3 1276.4,442.9 1277.3,440.6 1278.1,438.2 1279.0,435.8 1279.9,433.5 1280.7,431.1 1281.6,428.7 1282.4,426.4 1283.3,424.0 1284.2,421.6 1285.0,419.3 1285.9,416.9 1286.7,414.5 1287.6,412.2 1288.5,409.8 1289.3,407.4 1290.2,405.1 1291.1,402.7 1291.9,400.3 1292.8,397.9 1293.6,395.6 1294.5,393.2 1295.4,390.8 1296.2,388.5 1297.1,386.1 1298.0,383.7 1298.8,381.4 1299.7,379.0 1300.6,376.6 1301.5,374.3 1302.3,371.9 1303.2,369.5 1304.1,367.2 1305.0,364.8 1305.8,362.4 1306.7,360.1 1307.6,357.7 1308.5,355.4 1309.4,353.0 1310.3,350.6 1311.2,348.3 1312.0,345.9 1312.9,343.6 1313.8,341.2 1314.7,338.8 1315.6,336.5 1316.5,334.1 1317.4,331.8 1318.3,329.4 1319.2,327.1 1320.1,324.7 1321.1,322.4 1322.0,320.0 1322.9,317.7 1323.8,315.3 1324.7,313.0 1325.6,310.6 1326.6,308.3 1327.5,305.9 1328.4,303.6 1329.4,301.3 1330.3,298.9 1331.2,296.6 1332.2,294.3 1333.1,291.9 1334.1,289.6 1335.0,287.3 1336.0,284.9 1336.9,282.6 1337.9,280.3 1338.8,278.0 1339.8,275.6 1340.8,273.3 1341.8,271.0 1342.7,268.7 1343.7,266.4 1344.7,264.1 1345.7,261.7 1346.7,259.4 1347.7,257.1 1348.7,254.8 1349.7,252.5 1350.7,250.2 1351.7,247.9 1352.7,245.6 1353.7,243.3 1354.7,241.0 1355.8,238.8 1356.8,236.5 1357.8,234.2 1358.9,231.9 1359.9,229.6 1361.0,227.3 1362.0,225.1 1363.1,222.8 1364.1,220.5 1365.2,218.3 1366.3,216.0 1367.3,213.7 1368.4,211.5 1369.5,209.2 1370.6,207.0 1371.7,204.7 1372.8,202.5 1373.9,200.3 1375.0,198.0 1376.2,195.8 1377.3,193.6 1378.4,191.4 1379.6,189.2 1380.7,187.0 1381.9,184.8 1383.1,182.6 1384.3,180.4 1385.5,178.2 1386.7,176.1 1387.9,173.9 1389.1,171.7 1390.4,169.6 1391.6,167.5 1392.9,165.3 1394.1,163.2 1395.4,161.1 1396.7,159.0 1398.0,156.9 1399.3,154.8 1400.6,152.8 1402.0,150.7 1403.3,148.7 1404.7,146.6 1406.1,144.6 1407.5,142.6 1408.9,140.6 1410.3,138.6 1411.7,136.6 1413.2,134.6 1414.7,132.7 1416.1,130.7 1417.6,128.8 1419.1,126.9 1420.7,125.0 1422.2,123.1 1423.8,121.2 1425.3,119.3 1426.9,117.5 1428.5,115.6 1430.2,113.8 1431.8,112.0 1433.5,110.2 1435.2,108.4 1436.9,106.7 1438.6,104.9 1440.3,103.2 1442.1,101.5 1443.8,99.8 1445.6,98.1 1447.4,96.4 1449.3,94.8 1451.1,93.1 1453.0,91.5 1454.9,89.9 1456.8,88.4 1458.7,86.8 1460.7,85.3 1462.7,83.7 1464.7,82.2 1466.7,80.8 1468.7,79.3 1470.8,77.9 1472.8,76.4 1474.9,75.0 1477.0,73.6 1479.1,72.3 1481.3,70.9 1483.4,69.6 1485.6,68.3 1487.8,67.0 1489.9,65.8 1492.2,64.5 1494.4,63.3 1496.6,62.1 1498.9,61.0 1501.1,59.8 1503.4,58.7 1505.7,57.6 1508.0,56.5 1510.3,55.5 1512.7,54.5 1515.0,53.5 1517.3,52.5 1519.7,51.5 1522.1,50.6 1524.5,49.7 1526.8,48.8 1529.2,48.0 1531.7,47.2 1534.1,46.4 1536.5,45.6 1560.0,45.3 1580.0,44.5 1610.0,44.0 1864.0,43.8" fill="none" stroke="#990000" stroke-width="9.6" stroke-linejoin="round"/>
</g>
<rect x="223.1" y="41.1" width="4.8" height="1277.6" fill="#0000ff"/>
<rect x="199.9" y="1314.20" width="28" height="4.6" fill="#0000ff"/>
<rect x="212" y="1250.55" width="16" height="4.6" fill="#0000ff"/>
<rect x="199.9" y="1186.89" width="28" height="4.6" fill="#0000ff"/>
<rect x="212" y="1123.24" width="16" height="4.6" fill="#0000ff"/>
<rect x="199.9" y="1059.58" width="28" height="4.6" fill="#0000ff"/>
<rect x="212" y="995.93" width="16" height="4.6" fill="#0000ff"/>
<rect x="199.9" y="932.27" width="28" height="4.6" fill="#0000ff"/>
<rect x="212" y="868.62" width="16" height="4.6" fill="#0000ff"/>
<rect x="199.9" y="804.96" width="28" height="4.6" fill="#0000ff"/>
<rect x="212" y="741.31" width="16" height="4.6" fill="#0000ff"/>
<rect x="199.9" y="677.65" width="28" height="4.6" fill="#0000ff"/>
<rect x="212" y="614.00" width="16" height="4.6" fill="#0000ff"/>
<rect x="199.9" y="550.34" width="28" height="4.6" fill="#0000ff"/>
<rect x="212" y="486.69" width="16" height="4.6" fill="#0000ff"/>
<rect x="199.9" y="423.03" width="28" height="4.6" fill="#0000ff"/>
<rect x="212" y="359.37" width="16" height="4.6" fill="#0000ff"/>
<rect x="199.9" y="295.72" width="28" height="4.6" fill="#0000ff"/>
<rect x="212" y="232.07" width="16" height="4.6" fill="#0000ff"/>
<rect x="199.9" y="168.41" width="28" height="4.6" fill="#0000ff"/>
<rect x="212" y="104.76" width="16" height="4.6" fill="#0000ff"/>
<rect x="199.9" y="41.10" width="28" height="4.6" fill="#0000ff"/>
<rect x="257" y="41.1" width="1682.0" height="4.6" fill="#000"/>
<rect x="257" y="1314.1" width="1682.0" height="4.6" fill="#000"/>
<rect x="574.95" y="45.7" width="4.8" height="12.9" fill="#000"/>
<rect x="574.95" y="1318.7" width="4.8" height="13.1" fill="#000"/>
<rect x="736.95" y="45.7" width="4.8" height="12.9" fill="#000"/>
<rect x="736.95" y="1318.7" width="4.8" height="13.1" fill="#000"/>
<rect x="851.90" y="45.7" width="4.8" height="12.9" fill="#000"/>
<rect x="851.90" y="1318.7" width="4.8" height="13.1" fill="#000"/>
<rect x="941.05" y="45.7" width="4.8" height="12.9" fill="#000"/>
<rect x="941.05" y="1318.7" width="4.8" height="13.1" fill="#000"/>
<rect x="1013.90" y="45.7" width="4.8" height="12.9" fill="#000"/>
<rect x="1013.90" y="1318.7" width="4.8" height="13.1" fill="#000"/>
<rect x="1075.49" y="45.7" width="4.8" height="12.9" fill="#000"/>
<rect x="1075.49" y="1318.7" width="4.8" height="13.1" fill="#000"/>
<rect x="1128.84" y="45.7" width="4.8" height="12.9" fill="#000"/>
<rect x="1128.84" y="1318.7" width="4.8" height="13.1" fill="#000"/>
<rect x="1175.60" y="45.7" width="4.8" height="12.9" fill="#000"/>
<rect x="1175.60" y="1318.7" width="4.8" height="13.1" fill="#000"/>
<rect x="1495.10" y="45.7" width="4.8" height="12.9" fill="#000"/>
<rect x="1495.10" y="1318.7" width="4.8" height="13.1" fill="#000"/>
<rect x="1658.10" y="45.7" width="4.8" height="12.9" fill="#000"/>
<rect x="1658.10" y="1318.7" width="4.8" height="13.1" fill="#000"/>
<rect x="1772.10" y="45.7" width="4.8" height="12.9" fill="#000"/>
<rect x="1772.10" y="1318.7" width="4.8" height="13.1" fill="#000"/>
<rect x="1861.00" y="45.7" width="4.8" height="12.9" fill="#000"/>
<rect x="1861.00" y="1318.7" width="4.8" height="13.1" fill="#000"/>
<rect x="1933.80" y="1318.7" width="4.8" height="13.1" fill="#000"/>
<rect x="298.00" y="45.7" width="4.8" height="25.2" fill="#000"/>
<rect x="298.00" y="1318.7" width="4.8" height="25.9" fill="#000"/>
<rect x="1218.10" y="45.7" width="4.8" height="25.2" fill="#000"/>
<rect x="1218.10" y="1318.7" width="4.8" height="25.9" fill="#000"/>
<rect x="223.10" y="45.7" width="4.8" height="25.2" fill="#000"/>
<rect x="223.10" y="1318.7" width="4.8" height="25.9" fill="#000"/>
<rect x="255.20" y="45.7" width="4.8" height="12.9" fill="#000"/>
<rect x="255.20" y="1318.7" width="4.8" height="13.1" fill="#000"/>
<rect x="1934.2" y="41.1" width="4.8" height="1277.6" fill="#000080"/>
<rect x="1934.2" y="1314.20" width="29.4" height="4.6" fill="#000080"/>
<rect x="1934.2" y="1186.89" width="17.1" height="4.6" fill="#000080"/>
<rect x="1934.2" y="1059.58" width="29.4" height="4.6" fill="#000080"/>
<rect x="1934.2" y="932.27" width="17.1" height="4.6" fill="#000080"/>
<rect x="1934.2" y="804.96" width="29.4" height="4.6" fill="#000080"/>
<rect x="1934.2" y="677.65" width="17.1" height="4.6" fill="#000080"/>
<rect x="1934.2" y="550.34" width="29.4" height="4.6" fill="#000080"/>
<rect x="1934.2" y="423.03" width="17.1" height="4.6" fill="#000080"/>
<rect x="1934.2" y="295.72" width="29.4" height="4.6" fill="#000080"/>
<rect x="1934.2" y="168.41" width="17.1" height="4.6" fill="#000080"/>
<rect x="1934.2" y="41.10" width="29.4" height="4.6" fill="#000080"/>
<defs><clipPath id="bk1"><rect x="200" y="16.9" width="90" height="54"/></clipPath><clipPath id="bk2"><rect x="200" y="1290.5" width="90" height="54"/></clipPath></defs>
<g clip-path="url(#bk1)">
<line x1="213.6" y1="69.5" x2="243.6" y2="18.3" stroke="#000" stroke-width="5.6" stroke-linecap="butt"/>
<line x1="242.8" y1="69.5" x2="272.8" y2="18.3" stroke="#000" stroke-width="5.6" stroke-linecap="butt"/>
</g>
<g clip-path="url(#bk2)">
<line x1="213.6" y1="1343.1" x2="243.6" y2="1291.9" stroke="#000" stroke-width="5.6" stroke-linecap="butt"/>
<line x1="242.8" y1="1343.1" x2="272.8" y2="1291.9" stroke="#000" stroke-width="5.6" stroke-linecap="butt"/>
</g>
<g font-size="49.5" fill="#0000ff" text-anchor="end">
<text x="184" y="1329.0">0</text>
<text x="184" y="1201.7">1</text>
<text x="184" y="1074.4">2</text>
<text x="184" y="947.1">3</text>
<text x="184" y="819.8">4</text>
<text x="184" y="692.5">5</text>
<text x="184" y="565.1">6</text>
<text x="184" y="437.8">7</text>
<text x="184" y="310.5">8</text>
<text x="184" y="183.2">9</text>
<text x="184" y="55.9">10</text>
</g>
<g font-size="49.5" fill="#000080" text-anchor="start">
<text x="1978.3" y="1329.2">0</text>
<text x="1978.3" y="1074.6">20</text>
<text x="1978.3" y="820.0">40</text>
<text x="1978.3" y="565.3">60</text>
<text x="1978.3" y="310.7">80</text>
<text x="1978.3" y="56.1">100</text>
</g>
<g font-size="49.5" fill="#000" text-anchor="middle">
<text x="225.3" y="1397">1</text>
<text x="300.0" y="1397">10</text>
<text x="1220.0" y="1397">100</text>
</g>
<text x="1081" y="1499.2" font-size="60.8" text-anchor="middle" fill="#000">Particle size (<tspan font-family="Liberation Serif, serif">μ</tspan>m)</text>
<text transform="translate(71.5,717.7) rotate(-90)" font-size="60.8" text-anchor="middle" fill="#000">Size class (%)</text>
<text transform="translate(2134,711.6) rotate(-90)" font-size="60.8" text-anchor="middle" fill="#000">Cumulative (%)</text>
<rect x="336" y="164.2" width="534" height="141.8" fill="#000"/>
<rect x="318" y="145" width="532" height="143" fill="#fff" stroke="#000" stroke-width="2"/>
<line x1="343.4" y1="184.5" x2="465.6" y2="184.5" stroke="#000080" stroke-width="9.5" stroke-linecap="round"/>
<line x1="343.4" y1="251" x2="465.6" y2="251" stroke="#990000" stroke-width="9.5" stroke-linecap="round"/>
<text x="496.5" y="202.7" font-size="55" fill="#000">Water based</text>
<text x="479" y="269" font-size="55" fill="#000">Solvent based</text>
</svg>
</body></html>
